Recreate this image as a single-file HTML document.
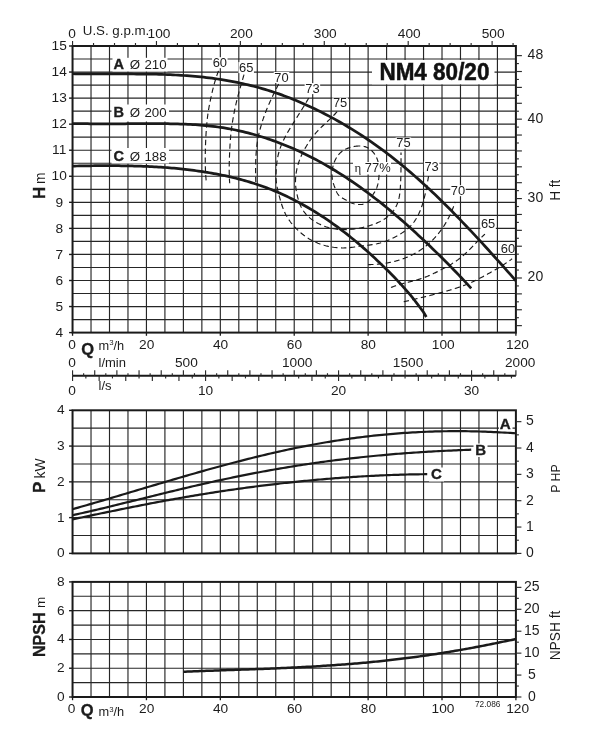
<!DOCTYPE html>
<html lang="en">
<head>
<meta charset="utf-8">
<title>NM4 80/20</title>
<style>html,body{margin:0;padding:0;background:#fff}svg{display:block;will-change:transform}</style>
</head>
<body>
<svg width="607" height="746" viewBox="0 0 607 746" font-family='"Liberation Sans", sans-serif'>
<rect width="607" height="746" fill="#fff"/>
<g id="main">
<line x1="72.55" y1="59.03" x2="515.9" y2="59.03" stroke="#262626" stroke-width="1.15" />
<line x1="72.55" y1="72.05" x2="515.9" y2="72.05" stroke="#262626" stroke-width="1.15" />
<line x1="72.55" y1="85.08" x2="515.9" y2="85.08" stroke="#262626" stroke-width="1.15" />
<line x1="72.55" y1="98.11" x2="515.9" y2="98.11" stroke="#262626" stroke-width="1.15" />
<line x1="72.55" y1="111.14" x2="515.9" y2="111.14" stroke="#262626" stroke-width="1.15" />
<line x1="72.55" y1="124.16" x2="515.9" y2="124.16" stroke="#262626" stroke-width="1.15" />
<line x1="72.55" y1="137.19" x2="515.9" y2="137.19" stroke="#262626" stroke-width="1.15" />
<line x1="72.55" y1="150.22" x2="515.9" y2="150.22" stroke="#262626" stroke-width="1.15" />
<line x1="72.55" y1="163.25" x2="515.9" y2="163.25" stroke="#262626" stroke-width="1.15" />
<line x1="72.55" y1="176.27" x2="515.9" y2="176.27" stroke="#262626" stroke-width="1.15" />
<line x1="72.55" y1="189.3" x2="515.9" y2="189.3" stroke="#262626" stroke-width="1.15" />
<line x1="72.55" y1="202.33" x2="515.9" y2="202.33" stroke="#262626" stroke-width="1.15" />
<line x1="72.55" y1="215.35" x2="515.9" y2="215.35" stroke="#262626" stroke-width="1.15" />
<line x1="72.55" y1="228.38" x2="515.9" y2="228.38" stroke="#262626" stroke-width="1.15" />
<line x1="72.55" y1="241.41" x2="515.9" y2="241.41" stroke="#262626" stroke-width="1.15" />
<line x1="72.55" y1="254.44" x2="515.9" y2="254.44" stroke="#262626" stroke-width="1.15" />
<line x1="72.55" y1="267.46" x2="515.9" y2="267.46" stroke="#262626" stroke-width="1.15" />
<line x1="72.55" y1="280.49" x2="515.9" y2="280.49" stroke="#262626" stroke-width="1.15" />
<line x1="72.55" y1="293.52" x2="515.9" y2="293.52" stroke="#262626" stroke-width="1.15" />
<line x1="72.55" y1="306.55" x2="515.9" y2="306.55" stroke="#262626" stroke-width="1.15" />
<line x1="72.55" y1="319.57" x2="515.9" y2="319.57" stroke="#262626" stroke-width="1.15" />
<line x1="91.02" y1="46" x2="91.02" y2="332.6" stroke="#262626" stroke-width="1.15" />
<line x1="109.5" y1="46" x2="109.5" y2="332.6" stroke="#262626" stroke-width="1.15" />
<line x1="127.97" y1="46" x2="127.97" y2="332.6" stroke="#262626" stroke-width="1.15" />
<line x1="146.44" y1="46" x2="146.44" y2="332.6" stroke="#262626" stroke-width="1.15" />
<line x1="164.91" y1="46" x2="164.91" y2="332.6" stroke="#262626" stroke-width="1.15" />
<line x1="183.39" y1="46" x2="183.39" y2="332.6" stroke="#262626" stroke-width="1.15" />
<line x1="201.86" y1="46" x2="201.86" y2="332.6" stroke="#262626" stroke-width="1.15" />
<line x1="220.33" y1="46" x2="220.33" y2="332.6" stroke="#262626" stroke-width="1.15" />
<line x1="238.81" y1="46" x2="238.81" y2="332.6" stroke="#262626" stroke-width="1.15" />
<line x1="257.28" y1="46" x2="257.28" y2="332.6" stroke="#262626" stroke-width="1.15" />
<line x1="275.75" y1="46" x2="275.75" y2="332.6" stroke="#262626" stroke-width="1.15" />
<line x1="294.22" y1="46" x2="294.22" y2="332.6" stroke="#262626" stroke-width="1.15" />
<line x1="312.7" y1="46" x2="312.7" y2="332.6" stroke="#262626" stroke-width="1.15" />
<line x1="331.17" y1="46" x2="331.17" y2="332.6" stroke="#262626" stroke-width="1.15" />
<line x1="349.64" y1="46" x2="349.64" y2="332.6" stroke="#262626" stroke-width="1.15" />
<line x1="368.12" y1="46" x2="368.12" y2="332.6" stroke="#262626" stroke-width="1.15" />
<line x1="386.59" y1="46" x2="386.59" y2="332.6" stroke="#262626" stroke-width="1.15" />
<line x1="405.06" y1="46" x2="405.06" y2="332.6" stroke="#262626" stroke-width="1.15" />
<line x1="423.54" y1="46" x2="423.54" y2="332.6" stroke="#262626" stroke-width="1.15" />
<line x1="442.01" y1="46" x2="442.01" y2="332.6" stroke="#262626" stroke-width="1.15" />
<line x1="460.48" y1="46" x2="460.48" y2="332.6" stroke="#262626" stroke-width="1.15" />
<line x1="478.95" y1="46" x2="478.95" y2="332.6" stroke="#262626" stroke-width="1.15" />
<line x1="497.43" y1="46" x2="497.43" y2="332.6" stroke="#262626" stroke-width="1.15" />
<rect x="372" y="60" width="122.5" height="24.3" fill="#fff"/>
<rect x="112.5" y="57.8" width="55" height="13.7" fill="#fff"/>
<rect x="111.5" y="104.5" width="57.5" height="17" fill="#fff"/>
<rect x="111.5" y="148" width="57.5" height="15.5" fill="#fff"/>
<path d="M218.5 70.9 L218.3 71.42 L218.1 71.95 L217.91 72.48 L217.72 73 L217.52 73.53 L217.34 74.06 L217.15 74.59 L216.97 75.12 L216.79 75.65 L216.61 76.18 L216.43 76.72 L216.26 77.25 L216.09 77.78 L215.92 78.32 L215.75 78.85 L215.58 79.39 L215.42 79.92 L215.25 80.46 L215.09 81 L214.94 81.53 L214.78 82.07 L214.62 82.61 L214.47 83.15 L214.32 83.69 L214.17 84.23 L214.02 84.77 L213.88 85.31 L213.73 85.85 L213.59 86.39 L213.45 86.94 L213.31 87.48 L213.17 88.02 L213.03 88.57 L212.89 89.11 L212.76 89.65 L212.62 90.2 L212.49 90.74 L212.36 91.29 L212.23 91.84 L212.1 92.38 L211.97 92.93 L211.85 93.47 L211.72 94.02 L211.6 94.57 L211.47 95.11 L211.35 95.66 L211.23 96.21 L211.11 96.76 L210.99 97.31 L210.87 97.85 L210.75 98.4 L210.63 98.95 L210.52 99.5 L210.4 100.05 L210.29 100.6 L210.17 101.15 L210.06 101.7 L209.95 102.25 L209.84 102.8 L209.73 103.35 L209.63 103.9 L209.52 104.45 L209.41 105 L209.31 105.55 L209.21 106.1 L209.11 106.65 L209.01 107.21 L208.91 107.76 L208.81 108.31 L208.72 108.86 L208.62 109.42 L208.53 109.97 L208.44 110.52 L208.35 111.08 L208.27 111.63 L208.18 112.18 L208.1 112.74 L208.02 113.29 L207.94 113.85 L207.86 114.4 L207.78 114.96 L207.71 115.51 L207.63 116.07 L207.56 116.63 L207.49 117.18 L207.43 117.74 L207.36 118.3 L207.3 118.85 L207.23 119.41 L207.17 119.97 L207.11 120.52 L207.06 121.08 L207 121.64 L206.94 122.2 L206.89 122.76 L206.84 123.31 L206.78 123.87 L206.73 124.43 L206.69 124.99 L206.64 125.55 L206.59 126.11 L206.55 126.67 L206.5 127.23 L206.46 127.79 L206.42 128.35 L206.37 128.91 L206.33 129.46 L206.29 130.02 L206.26 130.58 L206.22 131.14 L206.18 131.7 L206.14 132.26 L206.11 132.82 L206.07 133.38 L206.04 133.94 L206.01 134.5 L205.97 135.06 L205.94 135.62 L205.91 136.18 L205.88 136.74 L205.85 137.3 L205.82 137.86 L205.79 138.42 L205.77 138.98 L205.74 139.54 L205.71 140.1 L205.69 140.66 L205.66 141.22 L205.64 141.78 L205.62 142.34 L205.59 142.9 L205.57 143.46 L205.55 144.02 L205.53 144.58 L205.51 145.14 L205.49 145.7 L205.47 146.26 L205.45 146.82 L205.44 147.38 L205.42 147.95 L205.41 148.51 L205.39 149.07 L205.38 149.63 L205.36 150.19 L205.35 150.75 L205.34 151.31 L205.32 151.87 L205.31 152.43 L205.3 152.99 L205.29 153.55 L205.28 154.11 L205.28 154.67 L205.27 155.23 L205.26 155.8 L205.26 156.36 L205.25 156.92 L205.25 157.48 L205.25 158.04 L205.25 158.6 L205.25 159.16 L205.25 159.72 L205.25 160.28 L205.25 160.84 L205.25 161.4 L205.26 161.96 L205.26 162.52 L205.27 163.09 L205.28 163.65 L205.29 164.21 L205.3 164.77 L205.31 165.33 L205.32 165.89 L205.34 166.45 L205.35 167.01 L205.37 167.57 L205.39 168.13 L205.41 168.69 L205.43 169.25 L205.45 169.81 L205.47 170.37 L205.5 170.93 L205.52 171.49 L205.55 172.05 L205.58 172.61 L205.61 173.17 L205.64 173.73 L205.67 174.29 L205.71 174.85 L205.75 175.41 L205.78 175.97 L205.82 176.53 L205.86 177.09 L205.91 177.65 L205.95 178.21 L206 178.76 L206.05 179.32 L206.1 179.88 L206.15 180.44 L206.2 181" fill="none" stroke="#1a1a1a" stroke-width="1.15" stroke-dasharray="5.4 3.4"/>
<path d="M244 74.6 L243.85 75.13 L243.7 75.67 L243.54 76.2 L243.39 76.73 L243.24 77.26 L243.08 77.8 L242.93 78.33 L242.78 78.86 L242.62 79.39 L242.47 79.92 L242.32 80.46 L242.16 80.99 L242.01 81.52 L241.85 82.05 L241.7 82.59 L241.54 83.12 L241.39 83.65 L241.24 84.18 L241.08 84.72 L240.93 85.25 L240.78 85.78 L240.62 86.31 L240.47 86.85 L240.32 87.38 L240.17 87.91 L240.02 88.45 L239.87 88.98 L239.72 89.51 L239.57 90.05 L239.42 90.58 L239.27 91.11 L239.12 91.65 L238.97 92.18 L238.83 92.72 L238.68 93.25 L238.54 93.79 L238.39 94.32 L238.25 94.86 L238.11 95.39 L237.96 95.93 L237.82 96.46 L237.68 97 L237.55 97.54 L237.41 98.07 L237.27 98.61 L237.14 99.15 L237 99.69 L236.87 100.22 L236.74 100.76 L236.61 101.3 L236.48 101.84 L236.35 102.38 L236.23 102.92 L236.1 103.46 L235.98 104 L235.85 104.54 L235.73 105.08 L235.61 105.62 L235.49 106.16 L235.37 106.7 L235.25 107.24 L235.14 107.79 L235.02 108.33 L234.91 108.87 L234.79 109.41 L234.68 109.96 L234.57 110.5 L234.46 111.04 L234.35 111.59 L234.24 112.13 L234.14 112.67 L234.03 113.22 L233.93 113.76 L233.82 114.31 L233.72 114.85 L233.62 115.4 L233.52 115.94 L233.42 116.49 L233.32 117.03 L233.22 117.58 L233.13 118.12 L233.03 118.67 L232.94 119.22 L232.85 119.76 L232.76 120.31 L232.66 120.86 L232.58 121.4 L232.49 121.95 L232.4 122.5 L232.31 123.05 L232.23 123.6 L232.15 124.14 L232.06 124.69 L231.98 125.24 L231.9 125.79 L231.83 126.34 L231.75 126.89 L231.68 127.44 L231.6 127.98 L231.53 128.53 L231.46 129.08 L231.39 129.63 L231.32 130.18 L231.25 130.73 L231.19 131.28 L231.12 131.83 L231.06 132.38 L231 132.94 L230.94 133.49 L230.89 134.04 L230.83 134.59 L230.78 135.14 L230.72 135.69 L230.67 136.24 L230.62 136.8 L230.57 137.35 L230.53 137.9 L230.48 138.45 L230.44 139 L230.39 139.56 L230.35 140.11 L230.31 140.66 L230.27 141.21 L230.23 141.77 L230.19 142.32 L230.16 142.87 L230.12 143.43 L230.09 143.98 L230.05 144.53 L230.02 145.09 L229.99 145.64 L229.96 146.19 L229.93 146.75 L229.9 147.3 L229.87 147.85 L229.84 148.41 L229.81 148.96 L229.78 149.51 L229.75 150.07 L229.73 150.62 L229.7 151.18 L229.68 151.73 L229.65 152.28 L229.62 152.84 L229.6 153.39 L229.58 153.94 L229.55 154.5 L229.53 155.05 L229.51 155.61 L229.48 156.16 L229.46 156.71 L229.44 157.27 L229.42 157.82 L229.4 158.38 L229.38 158.93 L229.36 159.48 L229.35 160.04 L229.33 160.59 L229.31 161.15 L229.3 161.7 L229.29 162.25 L229.27 162.81 L229.26 163.36 L229.25 163.91 L229.24 164.47 L229.23 165.02 L229.22 165.58 L229.22 166.13 L229.21 166.68 L229.21 167.24 L229.2 167.79 L229.2 168.35 L229.2 168.9 L229.2 169.45 L229.2 170.01 L229.2 170.56 L229.21 171.12 L229.21 171.67 L229.22 172.22 L229.23 172.78 L229.24 173.33 L229.25 173.89 L229.26 174.44 L229.28 174.99 L229.29 175.55 L229.31 176.1 L229.33 176.66 L229.35 177.21 L229.38 177.76 L229.4 178.32 L229.43 178.87 L229.45 179.42 L229.48 179.98 L229.51 180.53 L229.55 181.09 L229.58 181.64 L229.62 182.19 L229.66 182.75 L229.7 183.3" fill="none" stroke="#1a1a1a" stroke-width="1.15" stroke-dasharray="5.4 3.4"/>
<path d="M278.6 84 L278.37 84.46 L278.15 84.92 L277.92 85.38 L277.69 85.84 L277.47 86.3 L277.24 86.76 L277.01 87.22 L276.78 87.68 L276.56 88.14 L276.33 88.6 L276.1 89.06 L275.87 89.52 L275.65 89.98 L275.42 90.44 L275.19 90.9 L274.97 91.36 L274.74 91.82 L274.51 92.28 L274.29 92.74 L274.06 93.2 L273.84 93.66 L273.61 94.12 L273.39 94.59 L273.17 95.05 L272.94 95.51 L272.72 95.97 L272.5 96.44 L272.28 96.9 L272.06 97.36 L271.84 97.83 L271.62 98.29 L271.4 98.76 L271.18 99.22 L270.96 99.69 L270.75 100.15 L270.53 100.62 L270.32 101.08 L270.1 101.55 L269.89 102.02 L269.68 102.48 L269.47 102.95 L269.26 103.42 L269.05 103.89 L268.84 104.36 L268.64 104.83 L268.43 105.3 L268.23 105.77 L268.02 106.24 L267.82 106.71 L267.62 107.18 L267.42 107.66 L267.22 108.13 L267.03 108.6 L266.83 109.08 L266.64 109.55 L266.45 110.03 L266.26 110.51 L266.07 110.98 L265.88 111.46 L265.7 111.94 L265.51 112.42 L265.33 112.9 L265.15 113.38 L264.97 113.86 L264.79 114.34 L264.61 114.82 L264.44 115.3 L264.26 115.79 L264.09 116.27 L263.92 116.75 L263.75 117.24 L263.58 117.72 L263.42 118.21 L263.25 118.69 L263.09 119.18 L262.93 119.67 L262.77 120.16 L262.61 120.64 L262.45 121.13 L262.29 121.62 L262.14 122.11 L261.99 122.6 L261.83 123.09 L261.68 123.58 L261.54 124.07 L261.39 124.57 L261.24 125.06 L261.1 125.55 L260.95 126.04 L260.81 126.54 L260.67 127.03 L260.53 127.53 L260.4 128.02 L260.26 128.52 L260.13 129.01 L260 129.51 L259.87 130 L259.74 130.5 L259.61 131 L259.48 131.5 L259.36 131.99 L259.24 132.49 L259.12 132.99 L259 133.49 L258.89 133.99 L258.78 134.49 L258.67 134.99 L258.56 135.5 L258.45 136 L258.35 136.5 L258.24 137 L258.15 137.51 L258.05 138.01 L257.95 138.51 L257.86 139.02 L257.77 139.52 L257.68 140.03 L257.6 140.54 L257.51 141.04 L257.43 141.55 L257.35 142.06 L257.28 142.56 L257.2 143.07 L257.13 143.58 L257.06 144.09 L256.99 144.6 L256.93 145.1 L256.87 145.61 L256.8 146.12 L256.74 146.63 L256.69 147.14 L256.63 147.65 L256.58 148.16 L256.52 148.68 L256.47 149.19 L256.42 149.7 L256.38 150.21 L256.33 150.72 L256.29 151.23 L256.25 151.74 L256.21 152.26 L256.17 152.77 L256.13 153.28 L256.09 153.79 L256.06 154.3 L256.03 154.82 L255.99 155.33 L255.96 155.84 L255.93 156.35 L255.91 156.87 L255.88 157.38 L255.86 157.89 L255.83 158.4 L255.81 158.92 L255.79 159.43 L255.77 159.94 L255.75 160.45 L255.73 160.97 L255.72 161.48 L255.7 161.99 L255.69 162.51 L255.67 163.02 L255.66 163.53 L255.65 164.04 L255.64 164.56 L255.63 165.07 L255.63 165.58 L255.62 166.1 L255.61 166.61 L255.61 167.12 L255.6 167.64 L255.6 168.15 L255.6 168.66 L255.6 169.18 L255.6 169.69 L255.6 170.2 L255.6 170.71 L255.6 171.23 L255.61 171.74 L255.61 172.25 L255.61 172.77 L255.62 173.28 L255.62 173.79 L255.63 174.31 L255.64 174.82 L255.65 175.33 L255.66 175.85 L255.66 176.36 L255.67 176.87 L255.68 177.38 L255.7 177.9 L255.71 178.41 L255.72 178.92 L255.73 179.44 L255.74 179.95 L255.76 180.46 L255.77 180.97 L255.79 181.49 L255.8 182" fill="none" stroke="#1a1a1a" stroke-width="1.15" stroke-dasharray="5.4 3.4"/>
<path d="M308.7 98.1 L307.89 99.5 L307.08 100.9 L306.26 102.29 L305.43 103.67 L304.59 105.06 L303.75 106.44 L302.9 107.81 L302.05 109.19 L301.2 110.56 L300.34 111.93 L299.48 113.3 L298.62 114.67 L297.76 116.03 L296.9 117.4 L296.04 118.76 L295.17 120.13 L294.31 121.5 L293.45 122.87 L292.6 124.24 L291.75 125.61 L290.9 126.99 L290.05 128.36 L289.22 129.75 L288.39 131.14 L287.58 132.53 L286.78 133.94 L286 135.35 L285.24 136.78 L284.49 138.22 L283.77 139.67 L283.07 141.13 L282.4 142.61 L281.76 144.09 L281.15 145.59 L280.57 147.11 L280.02 148.63 L279.51 150.17 L279.04 151.71 L278.61 153.27 L278.22 154.84 L277.88 156.41 L277.57 158 L277.3 159.59 L277.06 161.19 L276.85 162.79 L276.66 164.4 L276.51 166.02 L276.37 167.63 L276.25 169.25 L276.14 170.87 L276.07 172.49 L276.01 174.11 L276 175.73 L276.01 177.34 L276.07 178.96 L276.18 180.56 L276.34 182.16 L276.54 183.76 L276.78 185.35 L277.07 186.94 L277.39 188.53 L277.74 190.11 L278.11 191.68 L278.5 193.26 L278.92 194.83 L279.34 196.4 L279.77 197.97 L280.21 199.54 L280.65 201.11 L281.12 202.66 L281.6 204.21 L282.11 205.75 L282.64 207.28 L283.21 208.79 L283.81 210.29 L284.44 211.77 L285.12 213.23 L285.84 214.67 L286.61 216.09 L287.43 217.48 L288.29 218.85 L289.19 220.19 L290.13 221.52 L291.11 222.81 L292.12 224.08 L293.17 225.33 L294.25 226.54 L295.36 227.74 L296.5 228.9 L297.66 230.04 L298.85 231.15 L300.07 232.23 L301.31 233.28 L302.57 234.3 L303.85 235.29 L305.16 236.24 L306.5 237.16 L307.85 238.05 L309.23 238.9 L310.63 239.71 L312.05 240.48 L313.49 241.22 L314.95 241.91 L316.43 242.57 L317.92 243.19 L319.44 243.77 L320.97 244.31 L322.51 244.81 L324.06 245.28 L325.63 245.71 L327.21 246.1 L328.79 246.46 L330.39 246.77 L331.99 247.05 L333.59 247.3 L335.2 247.5 L336.82 247.67 L338.44 247.8 L340.06 247.89 L341.68 247.94 L343.3 247.95 L344.92 247.92 L346.53 247.86 L348.14 247.75 L349.75 247.6 L351.36 247.41 L352.96 247.2 L354.56 246.98 L356.15 246.74 L357.75 246.5 L359.36 246.26 L360.96 246.04 L362.57 245.84 L364.18 245.64 L365.79 245.45 L367.4 245.26 L369.01 245.06 L370.61 244.84 L372.21 244.61 L373.81 244.36 L375.4 244.09 L376.98 243.78 L378.55 243.43 L380.11 243.04 L381.66 242.61 L383.2 242.13 L384.72 241.62 L386.24 241.06 L387.74 240.47 L389.23 239.84 L390.72 239.18 L392.19 238.48 L393.65 237.76 L395.09 237.01 L396.53 236.23 L397.96 235.43 L399.37 234.6 L400.76 233.75 L402.14 232.86 L403.49 231.95 L404.82 231 L406.11 230.02 L407.37 229 L408.59 227.95 L409.77 226.85 L410.9 225.7 L411.99 224.52 L413.02 223.28 L414 222 L414.93 220.68 L415.81 219.32 L416.65 217.93 L417.45 216.51 L418.2 215.07 L418.91 213.6 L419.58 212.11 L420.22 210.61 L420.82 209.09 L421.38 207.57 L421.92 206.04 L422.43 204.5 L422.9 202.96 L423.35 201.4 L423.78 199.85 L424.19 198.28 L424.57 196.71 L424.94 195.14 L425.29 193.56 L425.62 191.98 L425.95 190.4 L426.26 188.81 L426.56 187.23 L426.86 185.64 L427.15 184.05 L427.44 182.46 L427.73 180.87 L428.01 179.28 L428.31 177.69 L428.6 176.1" fill="none" stroke="#1a1a1a" stroke-width="1.15" stroke-dasharray="5.4 3.4"/>
<path d="M337.1 111.7 L336.19 112.73 L335.26 113.75 L334.31 114.75 L333.35 115.74 L332.37 116.72 L331.39 117.69 L330.4 118.65 L329.4 119.61 L328.39 120.56 L327.38 121.5 L326.37 122.45 L325.36 123.4 L324.36 124.34 L323.35 125.29 L322.35 126.25 L321.36 127.21 L320.38 128.18 L319.4 129.16 L318.44 130.15 L317.5 131.15 L316.57 132.17 L315.66 133.21 L314.76 134.26 L313.89 135.32 L313.03 136.41 L312.19 137.5 L311.37 138.61 L310.56 139.74 L309.77 140.87 L309 142.02 L308.24 143.18 L307.5 144.35 L306.77 145.52 L306.05 146.71 L305.36 147.91 L304.67 149.11 L304.01 150.32 L303.36 151.54 L302.73 152.77 L302.12 154.01 L301.53 155.26 L300.97 156.52 L300.43 157.79 L299.91 159.07 L299.43 160.36 L298.96 161.67 L298.53 162.98 L298.12 164.3 L297.74 165.63 L297.39 166.97 L297.06 168.31 L296.76 169.66 L296.5 171.02 L296.26 172.39 L296.05 173.75 L295.87 175.13 L295.72 176.5 L295.61 177.88 L295.53 179.26 L295.49 180.64 L295.48 182.02 L295.51 183.4 L295.58 184.78 L295.69 186.15 L295.83 187.53 L296.01 188.89 L296.21 190.26 L296.45 191.63 L296.71 192.99 L297 194.34 L297.31 195.7 L297.64 197.05 L297.99 198.4 L298.37 199.74 L298.78 201.07 L299.22 202.39 L299.7 203.69 L300.21 204.97 L300.77 206.24 L301.37 207.48 L302.02 208.69 L302.73 209.87 L303.49 211.03 L304.3 212.15 L305.16 213.24 L306.06 214.29 L307.01 215.31 L307.99 216.29 L309.01 217.24 L310.07 218.14 L311.15 219.01 L312.26 219.84 L313.39 220.63 L314.55 221.38 L315.74 222.1 L316.94 222.79 L318.16 223.44 L319.4 224.06 L320.65 224.64 L321.92 225.2 L323.21 225.73 L324.5 226.23 L325.81 226.7 L327.12 227.13 L328.45 227.53 L329.79 227.9 L331.13 228.24 L332.48 228.54 L333.84 228.8 L335.2 229.03 L336.57 229.22 L337.94 229.38 L339.32 229.5 L340.7 229.58 L342.08 229.64 L343.46 229.66 L344.85 229.65 L346.23 229.61 L347.62 229.55 L349 229.46 L350.38 229.35 L351.76 229.22 L353.14 229.07 L354.51 228.9 L355.89 228.7 L357.25 228.5 L358.62 228.27 L359.98 228.02 L361.33 227.75 L362.68 227.46 L364.03 227.15 L365.37 226.83 L366.71 226.48 L368.04 226.11 L369.37 225.71 L370.69 225.3 L372 224.87 L373.31 224.41 L374.61 223.92 L375.9 223.41 L377.18 222.88 L378.44 222.31 L379.69 221.71 L380.93 221.08 L382.14 220.42 L383.33 219.72 L384.51 218.98 L385.66 218.2 L386.78 217.39 L387.87 216.53 L388.94 215.63 L389.96 214.69 L390.95 213.72 L391.89 212.7 L392.78 211.64 L393.62 210.54 L394.4 209.4 L395.13 208.22 L395.8 207.01 L396.41 205.76 L396.97 204.49 L397.48 203.2 L397.93 201.89 L398.34 200.56 L398.7 199.22 L399.02 197.88 L399.3 196.52 L399.54 195.16 L399.74 193.8 L399.92 192.43 L400.06 191.05 L400.19 189.67 L400.3 188.29 L400.39 186.91 L400.47 185.53 L400.54 184.14 L400.61 182.76 L400.67 181.38 L400.73 180 L400.77 178.62 L400.82 177.24 L400.86 175.86 L400.89 174.48 L400.92 173.1 L400.95 171.72 L400.97 170.34 L400.98 168.96 L401 167.59 L401.01 166.21 L401.02 164.83 L401.02 163.45 L401.03 162.07 L401.03 160.69 L401.03 159.31 L401.02 157.93 L401.02 156.55 L401.01 155.17 L401.01 153.78 L401 152.4" fill="none" stroke="#1a1a1a" stroke-width="1.15" stroke-dasharray="5.4 3.4"/>
<path d="M368.1 264.6 L368.68 264.6 L369.26 264.59 L369.84 264.58 L370.42 264.57 L371 264.55 L371.58 264.53 L372.16 264.51 L372.74 264.49 L373.32 264.46 L373.89 264.43 L374.47 264.4 L375.05 264.37 L375.63 264.33 L376.21 264.29 L376.79 264.24 L377.37 264.2 L377.95 264.15 L378.53 264.1 L379.1 264.04 L379.68 263.98 L380.26 263.92 L380.84 263.86 L381.41 263.79 L381.99 263.72 L382.56 263.65 L383.14 263.57 L383.71 263.49 L384.29 263.41 L384.86 263.32 L385.44 263.23 L386.01 263.14 L386.58 263.04 L387.15 262.95 L387.73 262.84 L388.3 262.74 L388.87 262.63 L389.44 262.52 L390.01 262.41 L390.57 262.29 L391.14 262.17 L391.71 262.04 L392.27 261.91 L392.84 261.78 L393.4 261.65 L393.97 261.51 L394.53 261.37 L395.09 261.22 L395.65 261.08 L396.21 260.92 L396.77 260.77 L397.33 260.61 L397.89 260.45 L398.44 260.28 L399 260.11 L399.55 259.94 L400.11 259.77 L400.66 259.59 L401.21 259.4 L401.76 259.22 L402.31 259.03 L402.85 258.83 L403.4 258.63 L403.95 258.43 L404.49 258.23 L405.03 258.02 L405.57 257.81 L406.11 257.59 L406.65 257.37 L407.19 257.15 L407.72 256.92 L408.25 256.69 L408.78 256.46 L409.31 256.22 L409.84 255.98 L410.37 255.73 L410.89 255.48 L411.42 255.23 L411.94 254.97 L412.46 254.71 L412.97 254.45 L413.49 254.18 L414 253.91 L414.51 253.63 L415.02 253.35 L415.53 253.07 L416.03 252.78 L416.54 252.49 L417.04 252.19 L417.53 251.9 L418.03 251.59 L418.52 251.29 L419.02 250.98 L419.5 250.66 L419.99 250.35 L420.48 250.02 L420.96 249.7 L421.44 249.37 L421.91 249.04 L422.39 248.7 L422.86 248.36 L423.33 248.02 L423.8 247.68 L424.26 247.33 L424.72 246.97 L425.18 246.62 L425.64 246.26 L426.09 245.9 L426.54 245.53 L426.99 245.16 L427.44 244.79 L427.88 244.41 L428.32 244.03 L428.76 243.65 L429.19 243.26 L429.63 242.87 L430.06 242.48 L430.48 242.09 L430.91 241.69 L431.33 241.29 L431.74 240.89 L432.16 240.48 L432.57 240.07 L432.98 239.66 L433.38 239.24 L433.79 238.82 L434.19 238.4 L434.58 237.98 L434.98 237.55 L435.37 237.12 L435.75 236.69 L436.14 236.25 L436.52 235.81 L436.9 235.37 L437.27 234.93 L437.65 234.49 L438.02 234.04 L438.38 233.59 L438.75 233.13 L439.11 232.68 L439.46 232.22 L439.82 231.76 L440.17 231.3 L440.52 230.83 L440.86 230.37 L441.2 229.9 L441.54 229.43 L441.87 228.95 L442.21 228.48 L442.54 228 L442.86 227.52 L443.18 227.04 L443.5 226.55 L443.82 226.07 L444.13 225.58 L444.44 225.09 L444.75 224.6 L445.06 224.1 L445.36 223.61 L445.65 223.11 L445.95 222.61 L446.24 222.11 L446.53 221.6 L446.82 221.1 L447.1 220.59 L447.38 220.08 L447.66 219.57 L447.93 219.06 L448.2 218.55 L448.47 218.03 L448.74 217.52 L449 217 L449.26 216.48 L449.52 215.96 L449.77 215.44 L450.02 214.91 L450.27 214.39 L450.51 213.86 L450.76 213.34 L450.99 212.81 L451.23 212.28 L451.47 211.75 L451.7 211.21 L451.92 210.68 L452.15 210.14 L452.37 209.61 L452.59 209.07 L452.81 208.53 L453.02 207.99 L453.23 207.45 L453.44 206.91 L453.65 206.37 L453.85 205.83 L454.05 205.28 L454.25 204.74 L454.45 204.19 L454.64 203.64 L454.83 203.1 L455.02 202.55 L455.2 202" fill="none" stroke="#1a1a1a" stroke-width="1.15" stroke-dasharray="5.4 3.4"/>
<path d="M391 287.5 L391.51 287.29 L392.03 287.09 L392.55 286.89 L393.06 286.7 L393.58 286.51 L394.1 286.32 L394.63 286.14 L395.15 285.96 L395.67 285.78 L396.2 285.61 L396.72 285.43 L397.25 285.27 L397.78 285.1 L398.31 284.94 L398.84 284.78 L399.37 284.62 L399.9 284.46 L400.43 284.31 L400.96 284.15 L401.49 284 L402.03 283.85 L402.56 283.71 L403.1 283.56 L403.63 283.42 L404.17 283.27 L404.7 283.13 L405.24 282.99 L405.78 282.85 L406.31 282.71 L406.85 282.57 L407.39 282.43 L407.92 282.29 L408.46 282.15 L409 282.02 L409.53 281.88 L410.07 281.74 L410.61 281.6 L411.14 281.46 L411.68 281.32 L412.22 281.18 L412.75 281.04 L413.29 280.9 L413.82 280.75 L414.36 280.61 L414.89 280.46 L415.42 280.32 L415.96 280.17 L416.49 280.02 L417.02 279.87 L417.55 279.71 L418.08 279.56 L418.61 279.4 L419.14 279.24 L419.67 279.08 L420.2 278.91 L420.72 278.74 L421.25 278.57 L421.77 278.4 L422.29 278.22 L422.81 278.04 L423.34 277.86 L423.85 277.67 L424.37 277.48 L424.89 277.29 L425.4 277.09 L425.92 276.89 L426.43 276.69 L426.94 276.49 L427.46 276.28 L427.97 276.07 L428.47 275.85 L428.98 275.64 L429.49 275.42 L430 275.2 L430.5 274.97 L431.01 274.75 L431.51 274.52 L432.01 274.29 L432.51 274.05 L433.02 273.82 L433.52 273.58 L434.02 273.34 L434.52 273.1 L435.01 272.86 L435.51 272.62 L436.01 272.37 L436.51 272.12 L437 271.87 L437.5 271.62 L437.99 271.37 L438.49 271.12 L438.98 270.87 L439.48 270.61 L439.97 270.36 L440.46 270.1 L440.95 269.84 L441.45 269.59 L441.94 269.33 L442.43 269.07 L442.92 268.81 L443.41 268.55 L443.91 268.29 L444.4 268.02 L444.89 267.76 L445.37 267.49 L445.86 267.23 L446.35 266.96 L446.84 266.69 L447.32 266.42 L447.81 266.15 L448.29 265.88 L448.77 265.61 L449.25 265.33 L449.73 265.05 L450.21 264.77 L450.69 264.49 L451.17 264.21 L451.64 263.92 L452.11 263.63 L452.59 263.34 L453.06 263.05 L453.52 262.75 L453.99 262.46 L454.45 262.16 L454.92 261.85 L455.38 261.55 L455.83 261.24 L456.29 260.93 L456.74 260.62 L457.19 260.3 L457.64 259.98 L458.09 259.66 L458.53 259.33 L458.97 259 L459.41 258.67 L459.85 258.33 L460.28 257.99 L460.71 257.65 L461.14 257.3 L461.57 256.95 L461.99 256.6 L462.41 256.24 L462.83 255.88 L463.25 255.52 L463.66 255.16 L464.08 254.79 L464.49 254.42 L464.9 254.05 L465.3 253.67 L465.71 253.3 L466.11 252.92 L466.51 252.54 L466.92 252.16 L467.31 251.77 L467.71 251.39 L468.11 251 L468.5 250.61 L468.9 250.22 L469.29 249.83 L469.68 249.43 L470.07 249.04 L470.46 248.64 L470.85 248.25 L471.24 247.85 L471.63 247.45 L472.02 247.05 L472.4 246.65 L472.79 246.25 L473.17 245.85 L473.56 245.45 L473.94 245.05 L474.33 244.65 L474.71 244.25 L475.1 243.85 L475.48 243.44 L475.87 243.04 L476.25 242.64 L476.64 242.24 L477.02 241.84 L477.41 241.44 L477.8 241.04 L478.18 240.65 L478.57 240.25 L478.96 239.85 L479.35 239.46 L479.74 239.07 L480.13 238.67 L480.52 238.28 L480.91 237.89 L481.3 237.51 L481.7 237.12 L482.09 236.74 L482.49 236.35 L482.89 235.97 L483.29 235.59 L483.69 235.22 L484.09 234.84 L484.49 234.47 L484.9 234.1" fill="none" stroke="#1a1a1a" stroke-width="1.15" stroke-dasharray="5.4 3.4"/>
<path d="M403.7 301.8 L404.28 301.66 L404.85 301.53 L405.43 301.39 L406 301.26 L406.58 301.12 L407.15 300.98 L407.73 300.85 L408.3 300.71 L408.88 300.58 L409.45 300.44 L410.03 300.3 L410.6 300.17 L411.18 300.03 L411.75 299.9 L412.33 299.76 L412.9 299.62 L413.48 299.49 L414.05 299.35 L414.63 299.21 L415.2 299.08 L415.78 298.94 L416.35 298.8 L416.93 298.66 L417.5 298.53 L418.08 298.39 L418.65 298.25 L419.23 298.11 L419.8 297.98 L420.37 297.84 L420.95 297.7 L421.52 297.56 L422.1 297.42 L422.67 297.28 L423.24 297.14 L423.82 297 L424.39 296.86 L424.96 296.72 L425.54 296.58 L426.11 296.44 L426.69 296.29 L427.26 296.15 L427.83 296.01 L428.4 295.87 L428.98 295.72 L429.55 295.58 L430.12 295.44 L430.7 295.29 L431.27 295.15 L431.84 295 L432.41 294.86 L432.99 294.71 L433.56 294.56 L434.13 294.41 L434.7 294.27 L435.27 294.12 L435.85 293.97 L436.42 293.82 L436.99 293.67 L437.56 293.52 L438.13 293.37 L438.7 293.22 L439.28 293.06 L439.85 292.91 L440.42 292.76 L440.99 292.6 L441.56 292.45 L442.13 292.29 L442.7 292.14 L443.27 291.98 L443.84 291.82 L444.41 291.66 L444.98 291.51 L445.55 291.35 L446.12 291.19 L446.69 291.02 L447.26 290.86 L447.83 290.7 L448.4 290.54 L448.97 290.37 L449.53 290.2 L450.1 290.04 L450.67 289.87 L451.24 289.7 L451.8 289.53 L452.37 289.36 L452.94 289.19 L453.5 289.01 L454.07 288.83 L454.63 288.66 L455.2 288.48 L455.76 288.3 L456.32 288.12 L456.88 287.93 L457.45 287.75 L458.01 287.56 L458.57 287.37 L459.13 287.18 L459.69 286.99 L460.25 286.8 L460.8 286.6 L461.36 286.4 L461.92 286.2 L462.47 286 L463.03 285.79 L463.58 285.59 L464.13 285.38 L464.68 285.17 L465.23 284.95 L465.78 284.74 L466.33 284.52 L466.88 284.3 L467.43 284.07 L467.97 283.85 L468.52 283.62 L469.06 283.39 L469.6 283.16 L470.14 282.92 L470.68 282.68 L471.22 282.44 L471.76 282.2 L472.3 281.95 L472.83 281.7 L473.37 281.45 L473.9 281.2 L474.43 280.94 L474.97 280.69 L475.5 280.43 L476.03 280.17 L476.56 279.91 L477.09 279.64 L477.62 279.38 L478.14 279.11 L478.67 278.84 L479.2 278.57 L479.72 278.3 L480.25 278.03 L480.77 277.76 L481.3 277.48 L481.82 277.2 L482.34 276.93 L482.86 276.65 L483.39 276.37 L483.91 276.09 L484.43 275.81 L484.95 275.53 L485.47 275.24 L485.99 274.96 L486.51 274.68 L487.03 274.39 L487.54 274.11 L488.06 273.82 L488.58 273.54 L489.1 273.25 L489.61 272.96 L490.13 272.68 L490.65 272.39 L491.16 272.1 L491.68 271.81 L492.19 271.52 L492.71 271.22 L493.22 270.93 L493.73 270.64 L494.24 270.34 L494.75 270.05 L495.27 269.75 L495.78 269.45 L496.28 269.15 L496.79 268.85 L497.3 268.55 L497.81 268.25 L498.31 267.94 L498.82 267.64 L499.33 267.33 L499.83 267.02 L500.33 266.71 L500.83 266.4 L501.34 266.09 L501.84 265.78 L502.34 265.46 L502.83 265.15 L503.33 264.83 L503.83 264.51 L504.32 264.19 L504.82 263.86 L505.31 263.54 L505.8 263.21 L506.3 262.88 L506.79 262.55 L507.27 262.22 L507.76 261.89 L508.25 261.55 L508.74 261.22 L509.22 260.88 L509.7 260.54 L510.18 260.19 L510.67 259.85 L511.15 259.5 L511.62 259.15 L512.1 258.8" fill="none" stroke="#1a1a1a" stroke-width="1.15" stroke-dasharray="5.4 3.4"/>
<path d="M359 146 L358.15 146.03 L357.31 146.08 L356.46 146.16 L355.63 146.25 L354.79 146.37 L353.96 146.51 L353.13 146.68 L352.31 146.86 L351.49 147.07 L350.67 147.3 L349.86 147.54 L349.05 147.81 L348.25 148.1 L347.46 148.41 L346.67 148.74 L345.9 149.1 L345.14 149.48 L344.39 149.88 L343.66 150.31 L342.95 150.77 L342.25 151.25 L341.58 151.75 L340.93 152.29 L340.3 152.85 L339.7 153.44 L339.12 154.06 L338.56 154.7 L338.03 155.36 L337.53 156.04 L337.04 156.74 L336.58 157.46 L336.15 158.2 L335.73 158.94 L335.35 159.7 L334.98 160.47 L334.64 161.25 L334.32 162.04 L334.02 162.83 L333.74 163.63 L333.49 164.43 L333.26 165.24 L333.05 166.06 L332.85 166.88 L332.68 167.71 L332.53 168.54 L332.4 169.38 L332.29 170.22 L332.19 171.06 L332.12 171.91 L332.06 172.76 L332.03 173.61 L332.01 174.45 L332.02 175.3 L332.05 176.15 L332.1 176.99 L332.18 177.83 L332.28 178.67 L332.41 179.49 L332.56 180.32 L332.75 181.13 L332.95 181.94 L333.18 182.74 L333.43 183.55 L333.69 184.34 L333.96 185.14 L334.25 185.94 L334.54 186.74 L334.83 187.55 L335.13 188.36 L335.43 189.17 L335.74 189.97 L336.06 190.77 L336.4 191.56 L336.76 192.33 L337.16 193.07 L337.59 193.78 L338.06 194.46 L338.58 195.09 L339.15 195.68 L339.77 196.23 L340.42 196.75 L341.11 197.24 L341.82 197.7 L342.55 198.14 L343.3 198.57 L344.05 198.99 L344.81 199.41 L345.56 199.83 L346.3 200.26 L347.04 200.69 L347.77 201.11 L348.5 201.53 L349.24 201.93 L349.99 202.31 L350.74 202.67 L351.51 203 L352.29 203.3 L353.09 203.57 L353.9 203.8 L354.72 204 L355.55 204.17 L356.39 204.31 L357.23 204.41 L358.08 204.49 L358.93 204.53 L359.78 204.54 L360.63 204.52 L361.48 204.45 L362.31 204.34 L363.14 204.18 L363.96 203.97 L364.77 203.7 L365.56 203.38 L366.33 203 L367.07 202.57 L367.78 202.09 L368.44 201.56 L369.06 200.98 L369.62 200.35 L370.13 199.69 L370.59 198.99 L371.02 198.26 L371.43 197.52 L371.82 196.77 L372.22 196.02 L372.63 195.27 L373.05 194.54 L373.49 193.81 L373.94 193.09 L374.38 192.38 L374.82 191.66 L375.24 190.93 L375.64 190.2 L376.02 189.45 L376.37 188.69 L376.69 187.92 L376.99 187.13 L377.26 186.33 L377.5 185.53 L377.72 184.71 L377.92 183.89 L378.1 183.06 L378.27 182.22 L378.41 181.38 L378.54 180.53 L378.65 179.68 L378.75 178.84 L378.84 177.99 L378.91 177.14 L378.98 176.29 L379.03 175.45 L379.08 174.6 L379.11 173.76 L379.13 172.92 L379.14 172.08 L379.14 171.24 L379.12 170.4 L379.09 169.56 L379.05 168.71 L378.99 167.87 L378.92 167.03 L378.83 166.19 L378.72 165.35 L378.59 164.51 L378.45 163.67 L378.28 162.84 L378.09 162.02 L377.88 161.2 L377.64 160.39 L377.37 159.59 L377.08 158.8 L376.76 158.02 L376.41 157.25 L376.03 156.49 L375.62 155.75 L375.19 155.02 L374.73 154.31 L374.24 153.62 L373.73 152.94 L373.19 152.28 L372.62 151.65 L372.03 151.03 L371.41 150.44 L370.78 149.87 L370.11 149.33 L369.43 148.83 L368.72 148.36 L367.99 147.92 L367.24 147.53 L366.48 147.19 L365.69 146.89 L364.89 146.64 L364.07 146.44 L363.24 146.28 L362.4 146.15 L361.55 146.07 L360.7 146.02 L359.85 146 L359 146Z" fill="none" stroke="#1a1a1a" stroke-width="1.15" stroke-dasharray="5.4 3.4"/>
<rect x="212.05" y="57.2" width="15.5" height="11" fill="#fff"/>
<text x="219.8" y="67.1" font-size="12.9" text-anchor="middle" font-weight="normal" fill="#1c1c1c" >60</text>
<rect x="238.45" y="62.1" width="15.5" height="11" fill="#fff"/>
<text x="246.2" y="72" font-size="12.9" text-anchor="middle" font-weight="normal" fill="#1c1c1c" >65</text>
<rect x="273.75" y="72" width="15.5" height="11" fill="#fff"/>
<text x="281.5" y="81.9" font-size="12.9" text-anchor="middle" font-weight="normal" fill="#1c1c1c" >70</text>
<rect x="304.65" y="83.1" width="15.5" height="11" fill="#fff"/>
<text x="312.4" y="93" font-size="12.9" text-anchor="middle" font-weight="normal" fill="#1c1c1c" >73</text>
<rect x="332.35" y="97.5" width="15.5" height="11" fill="#fff"/>
<text x="340.1" y="107.4" font-size="12.9" text-anchor="middle" font-weight="normal" fill="#1c1c1c" >75</text>
<rect x="395.65" y="137.5" width="15.5" height="11" fill="#fff"/>
<text x="403.4" y="147.4" font-size="12.9" text-anchor="middle" font-weight="normal" fill="#1c1c1c" >75</text>
<rect x="423.85" y="161.2" width="15.5" height="11" fill="#fff"/>
<text x="431.6" y="171.1" font-size="12.9" text-anchor="middle" font-weight="normal" fill="#1c1c1c" >73</text>
<rect x="450.25" y="185.2" width="15.5" height="11" fill="#fff"/>
<text x="458" y="195.1" font-size="12.9" text-anchor="middle" font-weight="normal" fill="#1c1c1c" >70</text>
<rect x="480.35" y="218.4" width="15.5" height="11" fill="#fff"/>
<text x="488.1" y="228.3" font-size="12.9" text-anchor="middle" font-weight="normal" fill="#1c1c1c" >65</text>
<rect x="500.15" y="243.1" width="15.5" height="11" fill="#fff"/>
<text x="507.9" y="253" font-size="12.9" text-anchor="middle" font-weight="normal" fill="#1c1c1c" >60</text>
<rect x="353" y="162" width="38" height="12.5" fill="#fff"/>
<text x="354.5" y="172.4" font-size="12.9" text-anchor="start" font-weight="normal" fill="#1c1c1c" ><tspan font-family='"Liberation Serif", serif'>η</tspan> 77%</text>
<path d="M72.55 73.75 L75.34 73.76 L78.13 73.77 L80.92 73.78 L83.7 73.8 L86.49 73.81 L89.28 73.82 L92.07 73.83 L94.86 73.84 L97.65 73.85 L100.43 73.87 L103.22 73.88 L106.01 73.89 L108.8 73.9 L111.59 73.91 L114.38 73.93 L117.16 73.94 L119.95 73.95 L122.74 73.96 L125.53 73.97 L128.32 73.98 L131.11 73.99 L133.89 74 L136.68 74.02 L139.47 74.03 L142.26 74.04 L145.05 74.05 L147.84 74.07 L150.62 74.1 L153.41 74.16 L156.2 74.23 L158.99 74.31 L161.78 74.41 L164.57 74.5 L167.35 74.61 L170.14 74.72 L172.93 74.85 L175.72 75 L178.51 75.15 L181.3 75.32 L184.08 75.5 L186.87 75.69 L189.66 75.9 L192.45 76.13 L195.24 76.38 L198.03 76.64 L200.81 76.92 L203.6 77.21 L206.39 77.53 L209.18 77.86 L211.97 78.22 L214.76 78.6 L217.54 79 L220.33 79.41 L223.12 79.85 L225.91 80.31 L228.7 80.8 L231.49 81.31 L234.28 81.85 L237.06 82.4 L239.85 82.98 L242.64 83.58 L245.43 84.22 L248.22 84.87 L251.01 85.56 L253.79 86.27 L256.58 87.01 L259.37 87.77 L262.16 88.56 L264.95 89.38 L267.74 90.22 L270.52 91.1 L273.31 92.01 L276.1 92.94 L278.89 93.91 L281.68 94.9 L284.47 95.93 L287.25 96.98 L290.04 98.06 L292.83 99.17 L295.62 100.31 L298.41 101.48 L301.2 102.68 L303.98 103.9 L306.77 105.15 L309.56 106.43 L312.35 107.73 L315.14 109.06 L317.93 110.42 L320.71 111.81 L323.5 113.22 L326.29 114.66 L329.08 116.13 L331.87 117.63 L334.66 119.15 L337.44 120.7 L340.23 122.29 L343.02 123.9 L345.81 125.54 L348.6 127.21 L351.39 128.9 L354.17 130.63 L356.96 132.39 L359.75 134.18 L362.54 136 L365.33 137.85 L368.12 139.74 L370.91 141.65 L373.69 143.6 L376.48 145.58 L379.27 147.59 L382.06 149.63 L384.85 151.71 L387.64 153.82 L390.42 155.96 L393.21 158.13 L396 160.33 L398.79 162.57 L401.58 164.84 L404.37 167.14 L407.15 169.48 L409.94 171.84 L412.73 174.24 L415.52 176.67 L418.31 179.13 L421.1 181.63 L423.88 184.16 L426.67 186.72 L429.46 189.31 L432.25 191.93 L435.04 194.58 L437.83 197.26 L440.61 199.97 L443.4 202.72 L446.19 205.48 L448.98 208.27 L451.77 211.08 L454.56 213.91 L457.34 216.77 L460.13 219.66 L462.92 222.58 L465.71 225.5 L468.5 228.44 L471.29 231.4 L474.07 234.38 L476.86 237.38 L479.65 240.41 L482.44 243.44 L485.23 246.49 L488.02 249.55 L490.8 252.62 L493.59 255.71 L496.38 258.8 L499.17 261.91 L501.96 265.03 L504.75 268.15 L507.53 271.29 L510.32 274.43 L513.11 277.59 L515.9 280.75" fill="none" stroke="#1a1a1a" stroke-width="2.75" stroke-linejoin="round"/>
<path d="M72.55 123.51 L75.06 123.56 L77.56 123.6 L80.07 123.64 L82.58 123.68 L85.09 123.71 L87.59 123.74 L90.1 123.76 L92.61 123.79 L95.11 123.81 L97.62 123.83 L100.13 123.84 L102.64 123.85 L105.14 123.86 L107.65 123.87 L110.16 123.87 L112.67 123.87 L115.17 123.86 L117.68 123.85 L120.19 123.82 L122.69 123.8 L125.2 123.77 L127.71 123.74 L130.22 123.7 L132.72 123.67 L135.23 123.64 L137.74 123.61 L140.24 123.59 L142.75 123.57 L145.26 123.56 L147.77 123.55 L150.27 123.56 L152.78 123.56 L155.29 123.58 L157.79 123.6 L160.3 123.62 L162.81 123.65 L165.32 123.69 L167.82 123.73 L170.33 123.78 L172.84 123.83 L175.35 123.88 L177.85 123.94 L180.36 124.01 L182.87 124.08 L185.37 124.16 L187.88 124.26 L190.39 124.39 L192.9 124.55 L195.4 124.72 L197.91 124.9 L200.42 125.1 L202.92 125.31 L205.43 125.53 L207.94 125.78 L210.45 126.06 L212.95 126.35 L215.46 126.66 L217.97 126.99 L220.48 127.35 L222.98 127.72 L225.49 128.13 L228 128.56 L230.5 129.02 L233.01 129.51 L235.52 130.02 L238.03 130.55 L240.53 131.1 L243.04 131.68 L245.55 132.29 L248.05 132.92 L250.56 133.58 L253.07 134.26 L255.58 134.97 L258.08 135.7 L260.59 136.46 L263.1 137.24 L265.6 138.05 L268.11 138.88 L270.62 139.74 L273.13 140.63 L275.63 141.54 L278.14 142.47 L280.65 143.43 L283.16 144.41 L285.66 145.43 L288.17 146.46 L290.68 147.53 L293.18 148.61 L295.69 149.73 L298.2 150.86 L300.71 152.03 L303.21 153.22 L305.72 154.44 L308.23 155.68 L310.73 156.95 L313.24 158.24 L315.75 159.56 L318.26 160.9 L320.76 162.27 L323.27 163.67 L325.78 165.09 L328.28 166.54 L330.79 168.02 L333.3 169.52 L335.81 171.04 L338.31 172.59 L340.82 174.17 L343.33 175.78 L345.84 177.41 L348.34 179.06 L350.85 180.74 L353.36 182.45 L355.86 184.18 L358.37 185.94 L360.88 187.72 L363.39 189.53 L365.89 191.37 L368.4 193.23 L370.91 195.12 L373.41 197.04 L375.92 198.97 L378.43 200.93 L380.94 202.92 L383.44 204.93 L385.95 206.96 L388.46 209.03 L390.96 211.11 L393.47 213.21 L395.98 215.33 L398.49 217.48 L400.99 219.64 L403.5 221.83 L406.01 224.05 L408.52 226.28 L411.02 228.53 L413.53 230.8 L416.04 233.09 L418.54 235.4 L421.05 237.73 L423.56 240.08 L426.07 242.45 L428.57 244.84 L431.08 247.25 L433.59 249.67 L436.09 252.11 L438.6 254.57 L441.11 257.05 L443.62 259.54 L446.12 262.05 L448.63 264.58 L451.14 267.13 L453.65 269.7 L456.15 272.28 L458.66 274.88 L461.17 277.5 L463.67 280.15 L466.18 282.84 L468.69 285.56 L471.2 288.31" fill="none" stroke="#1a1a1a" stroke-width="2.75" stroke-linejoin="round"/>
<path d="M72.55 166.11 L74.76 166.05 L76.96 166 L79.17 165.95 L81.38 165.91 L83.59 165.87 L85.79 165.83 L88 165.8 L90.21 165.77 L92.42 165.75 L94.62 165.73 L96.83 165.71 L99.04 165.7 L101.25 165.69 L103.45 165.68 L105.66 165.68 L107.87 165.68 L110.08 165.68 L112.28 165.69 L114.49 165.7 L116.7 165.72 L118.91 165.74 L121.11 165.77 L123.32 165.8 L125.53 165.83 L127.74 165.87 L129.94 165.91 L132.15 165.96 L134.36 166.01 L136.57 166.07 L138.77 166.14 L140.98 166.2 L143.19 166.28 L145.4 166.36 L147.6 166.44 L149.81 166.54 L152.02 166.65 L154.23 166.77 L156.43 166.89 L158.64 167.03 L160.85 167.18 L163.06 167.34 L165.26 167.5 L167.47 167.67 L169.68 167.85 L171.89 168.04 L174.09 168.24 L176.3 168.44 L178.51 168.66 L180.72 168.88 L182.92 169.11 L185.13 169.35 L187.34 169.6 L189.55 169.87 L191.75 170.15 L193.96 170.44 L196.17 170.74 L198.37 171.05 L200.58 171.36 L202.79 171.69 L205 172.03 L207.2 172.38 L209.41 172.75 L211.62 173.14 L213.83 173.53 L216.03 173.94 L218.24 174.36 L220.45 174.79 L222.66 175.23 L224.86 175.69 L227.07 176.17 L229.28 176.67 L231.49 177.19 L233.69 177.72 L235.9 178.26 L238.11 178.82 L240.32 179.39 L242.52 179.99 L244.73 180.6 L246.94 181.24 L249.15 181.9 L251.35 182.58 L253.56 183.27 L255.77 183.98 L257.98 184.71 L260.18 185.46 L262.39 186.24 L264.6 187.04 L266.81 187.86 L269.01 188.71 L271.22 189.58 L273.43 190.47 L275.64 191.38 L277.84 192.31 L280.05 193.27 L282.26 194.26 L284.47 195.27 L286.67 196.31 L288.88 197.37 L291.09 198.45 L293.3 199.56 L295.5 200.69 L297.71 201.85 L299.92 203.03 L302.13 204.24 L304.33 205.47 L306.54 206.73 L308.75 208.01 L310.96 209.32 L313.16 210.65 L315.37 212.01 L317.58 213.39 L319.79 214.8 L321.99 216.23 L324.2 217.69 L326.41 219.17 L328.61 220.68 L330.82 222.22 L333.03 223.78 L335.24 225.36 L337.44 226.97 L339.65 228.61 L341.86 230.28 L344.07 231.97 L346.27 233.68 L348.48 235.43 L350.69 237.2 L352.9 238.99 L355.1 240.81 L357.31 242.66 L359.52 244.53 L361.73 246.43 L363.93 248.35 L366.14 250.29 L368.35 252.26 L370.56 254.25 L372.76 256.28 L374.97 258.33 L377.18 260.41 L379.39 262.51 L381.59 264.62 L383.8 266.76 L386.01 268.9 L388.22 271.06 L390.42 273.27 L392.63 275.51 L394.84 277.79 L397.05 280.11 L399.25 282.48 L401.46 284.87 L403.67 287.31 L405.88 289.79 L408.08 292.34 L410.29 294.99 L412.5 297.71 L414.71 300.51 L416.91 303.37 L419.12 306.29 L421.33 309.26 L423.54 312.28 L426.31 316.97" fill="none" stroke="#1a1a1a" stroke-width="2.75" stroke-linejoin="round"/>
<rect x="72.55" y="46" width="443.35" height="286.6" fill="none" stroke="#1a1a1a" stroke-width="2.0"/>
<text x="113.5" y="69.2" font-size="14.5" text-anchor="start" font-weight="bold" fill="#1c1c1c"  stroke="#1c1c1c" stroke-width="0.35">A</text>
<text x="129.8" y="69.2" font-size="13.3" text-anchor="start" font-weight="normal" fill="#1c1c1c" >Ø</text>
<text x="144.4" y="69.2" font-size="13.3" text-anchor="start" font-weight="normal" fill="#1c1c1c" >210</text>
<text x="113.5" y="117.3" font-size="14.5" text-anchor="start" font-weight="bold" fill="#1c1c1c"  stroke="#1c1c1c" stroke-width="0.35">B</text>
<text x="129.8" y="117.3" font-size="13.3" text-anchor="start" font-weight="normal" fill="#1c1c1c" >Ø</text>
<text x="144.4" y="117.3" font-size="13.3" text-anchor="start" font-weight="normal" fill="#1c1c1c" >200</text>
<text x="113.5" y="160.5" font-size="14.5" text-anchor="start" font-weight="bold" fill="#1c1c1c"  stroke="#1c1c1c" stroke-width="0.35">C</text>
<text x="129.8" y="160.5" font-size="13.3" text-anchor="start" font-weight="normal" fill="#1c1c1c" >Ø</text>
<text x="144.4" y="160.5" font-size="13.3" text-anchor="start" font-weight="normal" fill="#1c1c1c" >188</text>
<text x="379.4" y="80.4" font-size="24" text-anchor="start" font-weight="bold" fill="#111" textLength="110" lengthAdjust="spacingAndGlyphs" stroke="#111" stroke-width="0.55">NM4 80/20</text>
<line x1="69.05" y1="332.6" x2="72.55" y2="332.6" stroke="#1a1a1a" stroke-width="1.4" />
<text x="59.2" y="336.8" font-size="13.7" text-anchor="middle" font-weight="normal" fill="#1c1c1c" >4</text>
<line x1="69.05" y1="306.55" x2="72.55" y2="306.55" stroke="#1a1a1a" stroke-width="1.4" />
<text x="59.2" y="310.75" font-size="13.7" text-anchor="middle" font-weight="normal" fill="#1c1c1c" >5</text>
<line x1="69.05" y1="280.49" x2="72.55" y2="280.49" stroke="#1a1a1a" stroke-width="1.4" />
<text x="59.2" y="284.69" font-size="13.7" text-anchor="middle" font-weight="normal" fill="#1c1c1c" >6</text>
<line x1="69.05" y1="254.44" x2="72.55" y2="254.44" stroke="#1a1a1a" stroke-width="1.4" />
<text x="59.2" y="258.64" font-size="13.7" text-anchor="middle" font-weight="normal" fill="#1c1c1c" >7</text>
<line x1="69.05" y1="228.38" x2="72.55" y2="228.38" stroke="#1a1a1a" stroke-width="1.4" />
<text x="59.2" y="232.58" font-size="13.7" text-anchor="middle" font-weight="normal" fill="#1c1c1c" >8</text>
<line x1="69.05" y1="202.33" x2="72.55" y2="202.33" stroke="#1a1a1a" stroke-width="1.4" />
<text x="59.2" y="206.53" font-size="13.7" text-anchor="middle" font-weight="normal" fill="#1c1c1c" >9</text>
<line x1="69.05" y1="176.27" x2="72.55" y2="176.27" stroke="#1a1a1a" stroke-width="1.4" />
<text x="59.2" y="180.47" font-size="13.7" text-anchor="middle" font-weight="normal" fill="#1c1c1c" >10</text>
<line x1="69.05" y1="150.22" x2="72.55" y2="150.22" stroke="#1a1a1a" stroke-width="1.4" />
<text x="59.2" y="154.42" font-size="13.7" text-anchor="middle" font-weight="normal" fill="#1c1c1c" >11</text>
<line x1="69.05" y1="124.16" x2="72.55" y2="124.16" stroke="#1a1a1a" stroke-width="1.4" />
<text x="59.2" y="128.36" font-size="13.7" text-anchor="middle" font-weight="normal" fill="#1c1c1c" >12</text>
<line x1="69.05" y1="98.11" x2="72.55" y2="98.11" stroke="#1a1a1a" stroke-width="1.4" />
<text x="59.2" y="102.31" font-size="13.7" text-anchor="middle" font-weight="normal" fill="#1c1c1c" >13</text>
<line x1="69.05" y1="72.05" x2="72.55" y2="72.05" stroke="#1a1a1a" stroke-width="1.4" />
<text x="59.2" y="76.25" font-size="13.7" text-anchor="middle" font-weight="normal" fill="#1c1c1c" >14</text>
<line x1="69.05" y1="46" x2="72.55" y2="46" stroke="#1a1a1a" stroke-width="1.4" />
<text x="59.2" y="50.2" font-size="13.7" text-anchor="middle" font-weight="normal" fill="#1c1c1c" >15</text>
<text transform="translate(44.9 199) rotate(-90)" font-size="17" font-weight="bold" fill="#1c1c1c" stroke="#1c1c1c" stroke-width="0.35">H<tspan font-size="13.8" font-weight="normal" stroke="none" dx="2.8">m</tspan></text>
<line x1="72.55" y1="41" x2="72.55" y2="46" stroke="#2b2b2b" stroke-width="1.15" />
<line x1="93.53" y1="43" x2="93.53" y2="46" stroke="#2b2b2b" stroke-width="1.15" />
<line x1="114.51" y1="43" x2="114.51" y2="46" stroke="#2b2b2b" stroke-width="1.15" />
<line x1="135.48" y1="43" x2="135.48" y2="46" stroke="#2b2b2b" stroke-width="1.15" />
<line x1="156.46" y1="41" x2="156.46" y2="46" stroke="#2b2b2b" stroke-width="1.15" />
<line x1="177.44" y1="43" x2="177.44" y2="46" stroke="#2b2b2b" stroke-width="1.15" />
<line x1="198.42" y1="43" x2="198.42" y2="46" stroke="#2b2b2b" stroke-width="1.15" />
<line x1="219.39" y1="43" x2="219.39" y2="46" stroke="#2b2b2b" stroke-width="1.15" />
<line x1="240.37" y1="41" x2="240.37" y2="46" stroke="#2b2b2b" stroke-width="1.15" />
<line x1="261.35" y1="43" x2="261.35" y2="46" stroke="#2b2b2b" stroke-width="1.15" />
<line x1="282.33" y1="43" x2="282.33" y2="46" stroke="#2b2b2b" stroke-width="1.15" />
<line x1="303.31" y1="43" x2="303.31" y2="46" stroke="#2b2b2b" stroke-width="1.15" />
<line x1="324.28" y1="41" x2="324.28" y2="46" stroke="#2b2b2b" stroke-width="1.15" />
<line x1="345.26" y1="43" x2="345.26" y2="46" stroke="#2b2b2b" stroke-width="1.15" />
<line x1="366.24" y1="43" x2="366.24" y2="46" stroke="#2b2b2b" stroke-width="1.15" />
<line x1="387.22" y1="43" x2="387.22" y2="46" stroke="#2b2b2b" stroke-width="1.15" />
<line x1="408.2" y1="41" x2="408.2" y2="46" stroke="#2b2b2b" stroke-width="1.15" />
<line x1="429.17" y1="43" x2="429.17" y2="46" stroke="#2b2b2b" stroke-width="1.15" />
<line x1="450.15" y1="43" x2="450.15" y2="46" stroke="#2b2b2b" stroke-width="1.15" />
<line x1="471.13" y1="43" x2="471.13" y2="46" stroke="#2b2b2b" stroke-width="1.15" />
<line x1="492.11" y1="41" x2="492.11" y2="46" stroke="#2b2b2b" stroke-width="1.15" />
<line x1="513.08" y1="43" x2="513.08" y2="46" stroke="#2b2b2b" stroke-width="1.15" />
<text x="71.95" y="37.8" font-size="13.7" text-anchor="middle" font-weight="normal" fill="#1c1c1c" >0</text>
<text x="82.8" y="34.8" font-size="13.3" text-anchor="start" font-weight="normal" fill="#1c1c1c" >U.S. g.p.m.</text>
<text x="158.96" y="37.8" font-size="13.7" text-anchor="middle" font-weight="normal" fill="#1c1c1c" >100</text>
<text x="241.37" y="37.8" font-size="13.7" text-anchor="middle" font-weight="normal" fill="#1c1c1c" >200</text>
<text x="325.28" y="37.8" font-size="13.7" text-anchor="middle" font-weight="normal" fill="#1c1c1c" >300</text>
<text x="409.2" y="37.8" font-size="13.7" text-anchor="middle" font-weight="normal" fill="#1c1c1c" >400</text>
<text x="493.11" y="37.8" font-size="13.7" text-anchor="middle" font-weight="normal" fill="#1c1c1c" >500</text>
<line x1="515.9" y1="325.64" x2="521.9" y2="325.64" stroke="#2b2b2b" stroke-width="1.15" />
<line x1="515.9" y1="317.7" x2="518.9" y2="317.7" stroke="#2b2b2b" stroke-width="1.15" />
<line x1="515.9" y1="309.76" x2="521.9" y2="309.76" stroke="#2b2b2b" stroke-width="1.15" />
<line x1="515.9" y1="301.81" x2="518.9" y2="301.81" stroke="#2b2b2b" stroke-width="1.15" />
<line x1="515.9" y1="293.87" x2="521.9" y2="293.87" stroke="#2b2b2b" stroke-width="1.15" />
<line x1="515.9" y1="285.93" x2="518.9" y2="285.93" stroke="#2b2b2b" stroke-width="1.15" />
<line x1="515.9" y1="277.99" x2="521.9" y2="277.99" stroke="#2b2b2b" stroke-width="1.15" />
<line x1="515.9" y1="270.05" x2="518.9" y2="270.05" stroke="#2b2b2b" stroke-width="1.15" />
<line x1="515.9" y1="262.11" x2="521.9" y2="262.11" stroke="#2b2b2b" stroke-width="1.15" />
<line x1="515.9" y1="254.17" x2="518.9" y2="254.17" stroke="#2b2b2b" stroke-width="1.15" />
<line x1="515.9" y1="246.22" x2="521.9" y2="246.22" stroke="#2b2b2b" stroke-width="1.15" />
<line x1="515.9" y1="238.28" x2="518.9" y2="238.28" stroke="#2b2b2b" stroke-width="1.15" />
<line x1="515.9" y1="230.34" x2="521.9" y2="230.34" stroke="#2b2b2b" stroke-width="1.15" />
<line x1="515.9" y1="222.4" x2="518.9" y2="222.4" stroke="#2b2b2b" stroke-width="1.15" />
<line x1="515.9" y1="214.46" x2="521.9" y2="214.46" stroke="#2b2b2b" stroke-width="1.15" />
<line x1="515.9" y1="206.52" x2="518.9" y2="206.52" stroke="#2b2b2b" stroke-width="1.15" />
<line x1="515.9" y1="198.58" x2="521.9" y2="198.58" stroke="#2b2b2b" stroke-width="1.15" />
<line x1="515.9" y1="190.63" x2="518.9" y2="190.63" stroke="#2b2b2b" stroke-width="1.15" />
<line x1="515.9" y1="182.69" x2="521.9" y2="182.69" stroke="#2b2b2b" stroke-width="1.15" />
<line x1="515.9" y1="174.75" x2="518.9" y2="174.75" stroke="#2b2b2b" stroke-width="1.15" />
<line x1="515.9" y1="166.81" x2="521.9" y2="166.81" stroke="#2b2b2b" stroke-width="1.15" />
<line x1="515.9" y1="158.87" x2="518.9" y2="158.87" stroke="#2b2b2b" stroke-width="1.15" />
<line x1="515.9" y1="150.93" x2="521.9" y2="150.93" stroke="#2b2b2b" stroke-width="1.15" />
<line x1="515.9" y1="142.99" x2="518.9" y2="142.99" stroke="#2b2b2b" stroke-width="1.15" />
<line x1="515.9" y1="135.04" x2="521.9" y2="135.04" stroke="#2b2b2b" stroke-width="1.15" />
<line x1="515.9" y1="127.1" x2="518.9" y2="127.1" stroke="#2b2b2b" stroke-width="1.15" />
<line x1="515.9" y1="119.16" x2="521.9" y2="119.16" stroke="#2b2b2b" stroke-width="1.15" />
<line x1="515.9" y1="111.22" x2="518.9" y2="111.22" stroke="#2b2b2b" stroke-width="1.15" />
<line x1="515.9" y1="103.28" x2="521.9" y2="103.28" stroke="#2b2b2b" stroke-width="1.15" />
<line x1="515.9" y1="95.34" x2="518.9" y2="95.34" stroke="#2b2b2b" stroke-width="1.15" />
<line x1="515.9" y1="87.4" x2="521.9" y2="87.4" stroke="#2b2b2b" stroke-width="1.15" />
<line x1="515.9" y1="79.45" x2="518.9" y2="79.45" stroke="#2b2b2b" stroke-width="1.15" />
<line x1="515.9" y1="71.51" x2="521.9" y2="71.51" stroke="#2b2b2b" stroke-width="1.15" />
<line x1="515.9" y1="63.57" x2="518.9" y2="63.57" stroke="#2b2b2b" stroke-width="1.15" />
<line x1="515.9" y1="55.63" x2="521.9" y2="55.63" stroke="#2b2b2b" stroke-width="1.15" />
<text x="527.6" y="281.39" font-size="14" text-anchor="start" font-weight="normal" fill="#1c1c1c" >20</text>
<text x="527.6" y="201.98" font-size="14" text-anchor="start" font-weight="normal" fill="#1c1c1c" >30</text>
<text x="527.6" y="122.56" font-size="14" text-anchor="start" font-weight="normal" fill="#1c1c1c" >40</text>
<text x="527.6" y="59.03" font-size="14" text-anchor="start" font-weight="normal" fill="#1c1c1c" >48</text>
<text transform="translate(560 200.6) rotate(-90)" font-size="14" fill="#1c1c1c" textLength="20.8" lengthAdjust="spacingAndGlyphs">H ft</text>
<line x1="72.55" y1="332.6" x2="72.55" y2="335.8" stroke="#1a1a1a" stroke-width="1.3" />
<line x1="146.44" y1="332.6" x2="146.44" y2="335.8" stroke="#1a1a1a" stroke-width="1.3" />
<line x1="220.33" y1="332.6" x2="220.33" y2="335.8" stroke="#1a1a1a" stroke-width="1.3" />
<line x1="294.22" y1="332.6" x2="294.22" y2="335.8" stroke="#1a1a1a" stroke-width="1.3" />
<line x1="368.12" y1="332.6" x2="368.12" y2="335.8" stroke="#1a1a1a" stroke-width="1.3" />
<line x1="442.01" y1="332.6" x2="442.01" y2="335.8" stroke="#1a1a1a" stroke-width="1.3" />
<line x1="515.9" y1="332.6" x2="515.9" y2="335.8" stroke="#1a1a1a" stroke-width="1.3" />
<text x="146.64" y="349" font-size="13.7" text-anchor="middle" font-weight="normal" fill="#1c1c1c" >20</text>
<text x="220.53" y="349" font-size="13.7" text-anchor="middle" font-weight="normal" fill="#1c1c1c" >40</text>
<text x="294.42" y="349" font-size="13.7" text-anchor="middle" font-weight="normal" fill="#1c1c1c" >60</text>
<text x="368.32" y="349" font-size="13.7" text-anchor="middle" font-weight="normal" fill="#1c1c1c" >80</text>
<text x="443.21" y="349" font-size="13.7" text-anchor="middle" font-weight="normal" fill="#1c1c1c" >100</text>
<text x="517.5" y="348.6" font-size="13.7" text-anchor="middle" font-weight="normal" fill="#1c1c1c" >120</text>
<text x="72.05" y="349" font-size="13.7" text-anchor="middle" font-weight="normal" fill="#1c1c1c" >0</text>
<text x="81.2" y="354.6" font-size="16.5" text-anchor="start" font-weight="bold" fill="#1c1c1c"  stroke="#1c1c1c" stroke-width="0.35">Q</text>
<text x="98.5" y="349.5" font-size="12.8" text-anchor="start" font-weight="normal" fill="#1c1c1c" >m<tspan font-size="7.8" dy="-4.6">3</tspan><tspan dy="4.6">/h</tspan></text>
</g>
<g id="mid">
<text x="72.05" y="367" font-size="13.7" text-anchor="middle" font-weight="normal" fill="#1c1c1c" >0</text>
<text x="98.5" y="366.6" font-size="13" text-anchor="start" font-weight="normal" fill="#1c1c1c" >l/min</text>
<text x="186.39" y="367" font-size="13.7" text-anchor="middle" font-weight="normal" fill="#1c1c1c" >500</text>
<text x="297.22" y="367" font-size="13.7" text-anchor="middle" font-weight="normal" fill="#1c1c1c" >1000</text>
<text x="408.06" y="367" font-size="13.7" text-anchor="middle" font-weight="normal" fill="#1c1c1c" >1500</text>
<text x="520.2" y="366.8" font-size="13.6" text-anchor="middle" font-weight="normal" fill="#1c1c1c" >2000</text>
<line x1="72.55" y1="375.8" x2="515.9" y2="375.8" stroke="#1a1a1a" stroke-width="2.0" />
<line x1="72.55" y1="370.3" x2="72.55" y2="375.8" stroke="#2b2b2b" stroke-width="1.15" />
<line x1="83.63" y1="373.2" x2="83.63" y2="375.8" stroke="#2b2b2b" stroke-width="1.15" />
<line x1="94.72" y1="370.3" x2="94.72" y2="375.8" stroke="#2b2b2b" stroke-width="1.15" />
<line x1="105.8" y1="373.2" x2="105.8" y2="375.8" stroke="#2b2b2b" stroke-width="1.15" />
<line x1="116.88" y1="370.3" x2="116.88" y2="375.8" stroke="#2b2b2b" stroke-width="1.15" />
<line x1="127.97" y1="373.2" x2="127.97" y2="375.8" stroke="#2b2b2b" stroke-width="1.15" />
<line x1="139.05" y1="370.3" x2="139.05" y2="375.8" stroke="#2b2b2b" stroke-width="1.15" />
<line x1="150.14" y1="373.2" x2="150.14" y2="375.8" stroke="#2b2b2b" stroke-width="1.15" />
<line x1="161.22" y1="370.3" x2="161.22" y2="375.8" stroke="#2b2b2b" stroke-width="1.15" />
<line x1="172.3" y1="373.2" x2="172.3" y2="375.8" stroke="#2b2b2b" stroke-width="1.15" />
<line x1="183.39" y1="370.3" x2="183.39" y2="375.8" stroke="#2b2b2b" stroke-width="1.15" />
<line x1="194.47" y1="373.2" x2="194.47" y2="375.8" stroke="#2b2b2b" stroke-width="1.15" />
<line x1="205.56" y1="370.3" x2="205.56" y2="375.8" stroke="#2b2b2b" stroke-width="1.15" />
<line x1="216.64" y1="373.2" x2="216.64" y2="375.8" stroke="#2b2b2b" stroke-width="1.15" />
<line x1="227.72" y1="370.3" x2="227.72" y2="375.8" stroke="#2b2b2b" stroke-width="1.15" />
<line x1="238.81" y1="373.2" x2="238.81" y2="375.8" stroke="#2b2b2b" stroke-width="1.15" />
<line x1="249.89" y1="370.3" x2="249.89" y2="375.8" stroke="#2b2b2b" stroke-width="1.15" />
<line x1="260.97" y1="373.2" x2="260.97" y2="375.8" stroke="#2b2b2b" stroke-width="1.15" />
<line x1="272.06" y1="370.3" x2="272.06" y2="375.8" stroke="#2b2b2b" stroke-width="1.15" />
<line x1="283.14" y1="373.2" x2="283.14" y2="375.8" stroke="#2b2b2b" stroke-width="1.15" />
<line x1="294.22" y1="370.3" x2="294.22" y2="375.8" stroke="#2b2b2b" stroke-width="1.15" />
<line x1="305.31" y1="373.2" x2="305.31" y2="375.8" stroke="#2b2b2b" stroke-width="1.15" />
<line x1="316.39" y1="370.3" x2="316.39" y2="375.8" stroke="#2b2b2b" stroke-width="1.15" />
<line x1="327.48" y1="373.2" x2="327.48" y2="375.8" stroke="#2b2b2b" stroke-width="1.15" />
<line x1="338.56" y1="370.3" x2="338.56" y2="375.8" stroke="#2b2b2b" stroke-width="1.15" />
<line x1="349.64" y1="373.2" x2="349.64" y2="375.8" stroke="#2b2b2b" stroke-width="1.15" />
<line x1="360.73" y1="370.3" x2="360.73" y2="375.8" stroke="#2b2b2b" stroke-width="1.15" />
<line x1="371.81" y1="373.2" x2="371.81" y2="375.8" stroke="#2b2b2b" stroke-width="1.15" />
<line x1="382.89" y1="370.3" x2="382.89" y2="375.8" stroke="#2b2b2b" stroke-width="1.15" />
<line x1="393.98" y1="373.2" x2="393.98" y2="375.8" stroke="#2b2b2b" stroke-width="1.15" />
<line x1="405.06" y1="370.3" x2="405.06" y2="375.8" stroke="#2b2b2b" stroke-width="1.15" />
<line x1="416.15" y1="373.2" x2="416.15" y2="375.8" stroke="#2b2b2b" stroke-width="1.15" />
<line x1="427.23" y1="370.3" x2="427.23" y2="375.8" stroke="#2b2b2b" stroke-width="1.15" />
<line x1="438.31" y1="373.2" x2="438.31" y2="375.8" stroke="#2b2b2b" stroke-width="1.15" />
<line x1="449.4" y1="370.3" x2="449.4" y2="375.8" stroke="#2b2b2b" stroke-width="1.15" />
<line x1="460.48" y1="373.2" x2="460.48" y2="375.8" stroke="#2b2b2b" stroke-width="1.15" />
<line x1="471.56" y1="370.3" x2="471.56" y2="375.8" stroke="#2b2b2b" stroke-width="1.15" />
<line x1="482.65" y1="373.2" x2="482.65" y2="375.8" stroke="#2b2b2b" stroke-width="1.15" />
<line x1="493.73" y1="370.3" x2="493.73" y2="375.8" stroke="#2b2b2b" stroke-width="1.15" />
<line x1="504.82" y1="373.2" x2="504.82" y2="375.8" stroke="#2b2b2b" stroke-width="1.15" />
<line x1="515.9" y1="370.3" x2="515.9" y2="375.8" stroke="#2b2b2b" stroke-width="1.15" />
<line x1="72.55" y1="375.8" x2="72.55" y2="381" stroke="#2b2b2b" stroke-width="1.15" />
<line x1="85.85" y1="375.8" x2="85.85" y2="378.4" stroke="#2b2b2b" stroke-width="1.15" />
<line x1="99.15" y1="375.8" x2="99.15" y2="381" stroke="#2b2b2b" stroke-width="1.15" />
<line x1="112.45" y1="375.8" x2="112.45" y2="378.4" stroke="#2b2b2b" stroke-width="1.15" />
<line x1="125.75" y1="375.8" x2="125.75" y2="381" stroke="#2b2b2b" stroke-width="1.15" />
<line x1="139.05" y1="375.8" x2="139.05" y2="378.4" stroke="#2b2b2b" stroke-width="1.15" />
<line x1="152.35" y1="375.8" x2="152.35" y2="381" stroke="#2b2b2b" stroke-width="1.15" />
<line x1="165.65" y1="375.8" x2="165.65" y2="378.4" stroke="#2b2b2b" stroke-width="1.15" />
<line x1="178.95" y1="375.8" x2="178.95" y2="381" stroke="#2b2b2b" stroke-width="1.15" />
<line x1="192.25" y1="375.8" x2="192.25" y2="378.4" stroke="#2b2b2b" stroke-width="1.15" />
<line x1="205.56" y1="375.8" x2="205.56" y2="381" stroke="#2b2b2b" stroke-width="1.15" />
<line x1="218.86" y1="375.8" x2="218.86" y2="378.4" stroke="#2b2b2b" stroke-width="1.15" />
<line x1="232.16" y1="375.8" x2="232.16" y2="381" stroke="#2b2b2b" stroke-width="1.15" />
<line x1="245.46" y1="375.8" x2="245.46" y2="378.4" stroke="#2b2b2b" stroke-width="1.15" />
<line x1="258.76" y1="375.8" x2="258.76" y2="381" stroke="#2b2b2b" stroke-width="1.15" />
<line x1="272.06" y1="375.8" x2="272.06" y2="378.4" stroke="#2b2b2b" stroke-width="1.15" />
<line x1="285.36" y1="375.8" x2="285.36" y2="381" stroke="#2b2b2b" stroke-width="1.15" />
<line x1="298.66" y1="375.8" x2="298.66" y2="378.4" stroke="#2b2b2b" stroke-width="1.15" />
<line x1="311.96" y1="375.8" x2="311.96" y2="381" stroke="#2b2b2b" stroke-width="1.15" />
<line x1="325.26" y1="375.8" x2="325.26" y2="378.4" stroke="#2b2b2b" stroke-width="1.15" />
<line x1="338.56" y1="375.8" x2="338.56" y2="381" stroke="#2b2b2b" stroke-width="1.15" />
<line x1="351.86" y1="375.8" x2="351.86" y2="378.4" stroke="#2b2b2b" stroke-width="1.15" />
<line x1="365.16" y1="375.8" x2="365.16" y2="381" stroke="#2b2b2b" stroke-width="1.15" />
<line x1="378.46" y1="375.8" x2="378.46" y2="378.4" stroke="#2b2b2b" stroke-width="1.15" />
<line x1="391.76" y1="375.8" x2="391.76" y2="381" stroke="#2b2b2b" stroke-width="1.15" />
<line x1="405.06" y1="375.8" x2="405.06" y2="378.4" stroke="#2b2b2b" stroke-width="1.15" />
<line x1="418.36" y1="375.8" x2="418.36" y2="381" stroke="#2b2b2b" stroke-width="1.15" />
<line x1="431.66" y1="375.8" x2="431.66" y2="378.4" stroke="#2b2b2b" stroke-width="1.15" />
<line x1="444.96" y1="375.8" x2="444.96" y2="381" stroke="#2b2b2b" stroke-width="1.15" />
<line x1="458.26" y1="375.8" x2="458.26" y2="378.4" stroke="#2b2b2b" stroke-width="1.15" />
<line x1="471.56" y1="375.8" x2="471.56" y2="381" stroke="#2b2b2b" stroke-width="1.15" />
<line x1="484.87" y1="375.8" x2="484.87" y2="378.4" stroke="#2b2b2b" stroke-width="1.15" />
<line x1="498.17" y1="375.8" x2="498.17" y2="381" stroke="#2b2b2b" stroke-width="1.15" />
<line x1="511.47" y1="375.8" x2="511.47" y2="378.4" stroke="#2b2b2b" stroke-width="1.15" />
<text x="72.05" y="394.6" font-size="13.7" text-anchor="middle" font-weight="normal" fill="#1c1c1c" >0</text>
<text x="98.5" y="390.4" font-size="13" text-anchor="start" font-weight="normal" fill="#1c1c1c" >l/s</text>
<text x="205.56" y="394.6" font-size="13.7" text-anchor="middle" font-weight="normal" fill="#1c1c1c" >10</text>
<text x="338.56" y="394.6" font-size="13.7" text-anchor="middle" font-weight="normal" fill="#1c1c1c" >20</text>
<text x="471.56" y="394.6" font-size="13.7" text-anchor="middle" font-weight="normal" fill="#1c1c1c" >30</text>
</g>
<g id="pchart">
<line x1="72.55" y1="428.19" x2="515.9" y2="428.19" stroke="#262626" stroke-width="1.15" />
<line x1="72.55" y1="446.07" x2="515.9" y2="446.07" stroke="#262626" stroke-width="1.15" />
<line x1="72.55" y1="463.96" x2="515.9" y2="463.96" stroke="#262626" stroke-width="1.15" />
<line x1="72.55" y1="481.85" x2="515.9" y2="481.85" stroke="#262626" stroke-width="1.15" />
<line x1="72.55" y1="499.74" x2="515.9" y2="499.74" stroke="#262626" stroke-width="1.15" />
<line x1="72.55" y1="517.62" x2="515.9" y2="517.62" stroke="#262626" stroke-width="1.15" />
<line x1="72.55" y1="535.51" x2="515.9" y2="535.51" stroke="#262626" stroke-width="1.15" />
<line x1="91.02" y1="410.3" x2="91.02" y2="553.4" stroke="#262626" stroke-width="1.15" />
<line x1="109.5" y1="410.3" x2="109.5" y2="553.4" stroke="#262626" stroke-width="1.15" />
<line x1="127.97" y1="410.3" x2="127.97" y2="553.4" stroke="#262626" stroke-width="1.15" />
<line x1="146.44" y1="410.3" x2="146.44" y2="553.4" stroke="#262626" stroke-width="1.15" />
<line x1="164.91" y1="410.3" x2="164.91" y2="553.4" stroke="#262626" stroke-width="1.15" />
<line x1="183.39" y1="410.3" x2="183.39" y2="553.4" stroke="#262626" stroke-width="1.15" />
<line x1="201.86" y1="410.3" x2="201.86" y2="553.4" stroke="#262626" stroke-width="1.15" />
<line x1="220.33" y1="410.3" x2="220.33" y2="553.4" stroke="#262626" stroke-width="1.15" />
<line x1="238.81" y1="410.3" x2="238.81" y2="553.4" stroke="#262626" stroke-width="1.15" />
<line x1="257.28" y1="410.3" x2="257.28" y2="553.4" stroke="#262626" stroke-width="1.15" />
<line x1="275.75" y1="410.3" x2="275.75" y2="553.4" stroke="#262626" stroke-width="1.15" />
<line x1="294.22" y1="410.3" x2="294.22" y2="553.4" stroke="#262626" stroke-width="1.15" />
<line x1="312.7" y1="410.3" x2="312.7" y2="553.4" stroke="#262626" stroke-width="1.15" />
<line x1="331.17" y1="410.3" x2="331.17" y2="553.4" stroke="#262626" stroke-width="1.15" />
<line x1="349.64" y1="410.3" x2="349.64" y2="553.4" stroke="#262626" stroke-width="1.15" />
<line x1="368.12" y1="410.3" x2="368.12" y2="553.4" stroke="#262626" stroke-width="1.15" />
<line x1="386.59" y1="410.3" x2="386.59" y2="553.4" stroke="#262626" stroke-width="1.15" />
<line x1="405.06" y1="410.3" x2="405.06" y2="553.4" stroke="#262626" stroke-width="1.15" />
<line x1="423.54" y1="410.3" x2="423.54" y2="553.4" stroke="#262626" stroke-width="1.15" />
<line x1="442.01" y1="410.3" x2="442.01" y2="553.4" stroke="#262626" stroke-width="1.15" />
<line x1="460.48" y1="410.3" x2="460.48" y2="553.4" stroke="#262626" stroke-width="1.15" />
<line x1="478.95" y1="410.3" x2="478.95" y2="553.4" stroke="#262626" stroke-width="1.15" />
<line x1="497.43" y1="410.3" x2="497.43" y2="553.4" stroke="#262626" stroke-width="1.15" />
<rect x="499" y="418" width="13.5" height="13" fill="#fff"/>
<rect x="473.5" y="443.5" width="14" height="13.5" fill="#fff"/>
<rect x="429" y="467.5" width="15" height="14" fill="#fff"/>
<path d="M72.55 509.2 L75.34 508.41 L78.13 507.61 L80.92 506.81 L83.7 506.02 L86.49 505.22 L89.28 504.42 L92.07 503.61 L94.86 502.81 L97.65 502 L100.43 501.18 L103.22 500.37 L106.01 499.55 L108.8 498.72 L111.59 497.9 L114.38 497.07 L117.16 496.24 L119.95 495.4 L122.74 494.57 L125.53 493.74 L128.32 492.9 L131.11 492.07 L133.89 491.23 L136.68 490.4 L139.47 489.57 L142.26 488.73 L145.05 487.9 L147.84 487.07 L150.62 486.24 L153.41 485.41 L156.2 484.59 L158.99 483.76 L161.78 482.93 L164.57 482.11 L167.35 481.29 L170.14 480.47 L172.93 479.65 L175.72 478.84 L178.51 478.03 L181.3 477.22 L184.08 476.41 L186.87 475.6 L189.66 474.8 L192.45 474 L195.24 473.21 L198.03 472.42 L200.81 471.63 L203.6 470.84 L206.39 470.06 L209.18 469.29 L211.97 468.52 L214.76 467.75 L217.54 466.99 L220.33 466.23 L223.12 465.47 L225.91 464.72 L228.7 463.98 L231.49 463.24 L234.28 462.51 L237.06 461.78 L239.85 461.06 L242.64 460.34 L245.43 459.63 L248.22 458.92 L251.01 458.23 L253.79 457.54 L256.58 456.85 L259.37 456.17 L262.16 455.5 L264.95 454.83 L267.74 454.18 L270.52 453.53 L273.31 452.89 L276.1 452.25 L278.89 451.62 L281.68 451 L284.47 450.39 L287.25 449.79 L290.04 449.19 L292.83 448.61 L295.62 448.03 L298.41 447.46 L301.2 446.9 L303.98 446.34 L306.77 445.8 L309.56 445.27 L312.35 444.75 L315.14 444.23 L317.93 443.73 L320.71 443.23 L323.5 442.75 L326.29 442.28 L329.08 441.81 L331.87 441.35 L334.66 440.91 L337.44 440.47 L340.23 440.05 L343.02 439.63 L345.81 439.22 L348.6 438.83 L351.39 438.44 L354.17 438.06 L356.96 437.7 L359.75 437.34 L362.54 436.99 L365.33 436.65 L368.12 436.33 L370.91 436.01 L373.69 435.7 L376.48 435.4 L379.27 435.11 L382.06 434.84 L384.85 434.57 L387.64 434.31 L390.42 434.06 L393.21 433.82 L396 433.6 L398.79 433.38 L401.58 433.17 L404.37 432.97 L407.15 432.79 L409.94 432.61 L412.73 432.44 L415.52 432.28 L418.31 432.14 L421.1 432 L423.88 431.87 L426.67 431.76 L429.46 431.65 L432.25 431.55 L435.04 431.47 L437.83 431.39 L440.61 431.33 L443.4 431.27 L446.19 431.23 L448.98 431.19 L451.77 431.17 L454.56 431.15 L457.34 431.15 L460.13 431.16 L462.92 431.17 L465.71 431.2 L468.5 431.23 L471.29 431.28 L474.07 431.34 L476.86 431.41 L479.65 431.5 L482.44 431.6 L485.23 431.7 L488.02 431.82 L490.8 431.94 L493.59 432.06 L496.38 432.2 L499.17 432.34 L501.96 432.48 L504.75 432.62 L507.53 432.77 L510.32 432.92 L513.11 433.08 L515.9 433.25" fill="none" stroke="#1a1a1a" stroke-width="2.2"/>
<path d="M72.55 515.25 L75.06 514.68 L77.56 514.11 L80.07 513.55 L82.58 512.98 L85.09 512.41 L87.59 511.83 L90.1 511.26 L92.61 510.68 L95.11 510.1 L97.62 509.51 L100.13 508.92 L102.64 508.32 L105.14 507.72 L107.65 507.11 L110.16 506.5 L112.67 505.88 L115.17 505.26 L117.68 504.65 L120.19 504.03 L122.69 503.41 L125.2 502.8 L127.71 502.18 L130.22 501.56 L132.72 500.94 L135.23 500.33 L137.74 499.71 L140.24 499.09 L142.75 498.48 L145.26 497.86 L147.77 497.24 L150.27 496.62 L152.78 496.01 L155.29 495.39 L157.79 494.77 L160.3 494.15 L162.81 493.53 L165.32 492.92 L167.82 492.3 L170.33 491.69 L172.84 491.08 L175.35 490.48 L177.85 489.87 L180.36 489.27 L182.87 488.67 L185.37 488.07 L187.88 487.48 L190.39 486.89 L192.9 486.3 L195.4 485.72 L197.91 485.14 L200.42 484.56 L202.92 483.98 L205.43 483.41 L207.94 482.85 L210.45 482.29 L212.95 481.73 L215.46 481.18 L217.97 480.63 L220.48 480.09 L222.98 479.55 L225.49 479.02 L228 478.48 L230.5 477.96 L233.01 477.44 L235.52 476.92 L238.03 476.41 L240.53 475.9 L243.04 475.39 L245.55 474.9 L248.05 474.4 L250.56 473.91 L253.07 473.43 L255.58 472.95 L258.08 472.47 L260.59 472 L263.1 471.53 L265.6 471.07 L268.11 470.61 L270.62 470.16 L273.13 469.72 L275.63 469.27 L278.14 468.84 L280.65 468.41 L283.16 467.98 L285.66 467.56 L288.17 467.14 L290.68 466.73 L293.18 466.32 L295.69 465.92 L298.2 465.53 L300.71 465.14 L303.21 464.75 L305.72 464.37 L308.23 464 L310.73 463.63 L313.24 463.26 L315.75 462.9 L318.26 462.55 L320.76 462.2 L323.27 461.85 L325.78 461.51 L328.28 461.18 L330.79 460.85 L333.3 460.53 L335.81 460.21 L338.31 459.89 L340.82 459.58 L343.33 459.28 L345.84 458.98 L348.34 458.68 L350.85 458.39 L353.36 458.11 L355.86 457.83 L358.37 457.55 L360.88 457.28 L363.39 457.01 L365.89 456.75 L368.4 456.49 L370.91 456.24 L373.41 455.99 L375.92 455.75 L378.43 455.51 L380.94 455.28 L383.44 455.05 L385.95 454.83 L388.46 454.61 L390.96 454.39 L393.47 454.18 L395.98 453.97 L398.49 453.77 L400.99 453.57 L403.5 453.38 L406.01 453.19 L408.52 453.01 L411.02 452.83 L413.53 452.65 L416.04 452.48 L418.54 452.32 L421.05 452.15 L423.56 451.99 L426.07 451.84 L428.57 451.69 L431.08 451.55 L433.59 451.4 L436.09 451.27 L438.6 451.14 L441.11 451.01 L443.62 450.88 L446.12 450.76 L448.63 450.65 L451.14 450.53 L453.65 450.42 L456.15 450.31 L458.66 450.2 L461.17 450.1 L463.67 450 L466.18 449.9 L468.69 449.81 L471.2 449.72" fill="none" stroke="#1a1a1a" stroke-width="2.2"/>
<path d="M72.55 519.34 L74.78 518.87 L77.01 518.4 L79.24 517.93 L81.47 517.46 L83.7 516.99 L85.93 516.52 L88.16 516.06 L90.4 515.6 L92.63 515.13 L94.86 514.67 L97.09 514.21 L99.32 513.75 L101.55 513.29 L103.78 512.83 L106.01 512.37 L108.24 511.91 L110.47 511.46 L112.7 511 L114.93 510.55 L117.16 510.09 L119.39 509.64 L121.63 509.19 L123.86 508.74 L126.09 508.29 L128.32 507.84 L130.55 507.39 L132.78 506.94 L135.01 506.5 L137.24 506.06 L139.47 505.61 L141.7 505.17 L143.93 504.74 L146.16 504.3 L148.39 503.86 L150.62 503.43 L152.85 503 L155.09 502.58 L157.32 502.16 L159.55 501.74 L161.78 501.33 L164.01 500.92 L166.24 500.51 L168.47 500.11 L170.7 499.7 L172.93 499.3 L175.16 498.9 L177.39 498.5 L179.62 498.11 L181.85 497.72 L184.08 497.33 L186.32 496.94 L188.55 496.56 L190.78 496.18 L193.01 495.8 L195.24 495.43 L197.47 495.06 L199.7 494.69 L201.93 494.33 L204.16 493.97 L206.39 493.61 L208.62 493.25 L210.85 492.9 L213.08 492.55 L215.31 492.21 L217.54 491.87 L219.78 491.53 L222.01 491.19 L224.24 490.86 L226.47 490.53 L228.7 490.2 L230.93 489.88 L233.16 489.55 L235.39 489.24 L237.62 488.92 L239.85 488.61 L242.08 488.3 L244.31 488 L246.54 487.69 L248.77 487.39 L251.01 487.1 L253.24 486.81 L255.47 486.52 L257.7 486.23 L259.93 485.95 L262.16 485.67 L264.39 485.39 L266.62 485.11 L268.85 484.84 L271.08 484.58 L273.31 484.31 L275.54 484.05 L277.77 483.79 L280 483.53 L282.24 483.28 L284.47 483.03 L286.7 482.79 L288.93 482.54 L291.16 482.31 L293.39 482.07 L295.62 481.84 L297.85 481.61 L300.08 481.38 L302.31 481.16 L304.54 480.94 L306.77 480.72 L309 480.5 L311.23 480.29 L313.46 480.09 L315.7 479.88 L317.93 479.68 L320.16 479.49 L322.39 479.29 L324.62 479.1 L326.85 478.92 L329.08 478.73 L331.31 478.55 L333.54 478.37 L335.77 478.2 L338 478.03 L340.23 477.86 L342.46 477.7 L344.69 477.54 L346.93 477.39 L349.16 477.23 L351.39 477.08 L353.62 476.94 L355.85 476.8 L358.08 476.66 L360.31 476.52 L362.54 476.39 L364.77 476.26 L367 476.14 L369.23 476.02 L371.46 475.9 L373.69 475.79 L375.92 475.68 L378.15 475.57 L380.39 475.47 L382.62 475.37 L384.85 475.27 L387.08 475.18 L389.31 475.09 L391.54 475.01 L393.77 474.93 L396 474.85 L398.23 474.78 L400.46 474.71 L402.69 474.64 L404.92 474.58 L407.15 474.52 L409.38 474.47 L411.62 474.42 L413.85 474.38 L416.08 474.34 L418.31 474.3 L420.54 474.27 L422.77 474.24 L425 474.21 L427.23 474.19" fill="none" stroke="#1a1a1a" stroke-width="2.2"/>
<rect x="72.55" y="410.3" width="443.35" height="143.1" fill="none" stroke="#1a1a1a" stroke-width="2.0"/>
<text x="499.8" y="428.7" font-size="15.2" text-anchor="start" font-weight="bold" fill="#1c1c1c"  stroke="#1c1c1c" stroke-width="0.35">A</text>
<text x="475.2" y="454.6" font-size="15" text-anchor="start" font-weight="bold" fill="#1c1c1c"  stroke="#1c1c1c" stroke-width="0.35">B</text>
<text x="431" y="478.5" font-size="15" text-anchor="start" font-weight="bold" fill="#1c1c1c"  stroke="#1c1c1c" stroke-width="0.35">C</text>
<line x1="69.05" y1="553.4" x2="72.55" y2="553.4" stroke="#1a1a1a" stroke-width="1.4" />
<text x="60.8" y="557.4" font-size="13.7" text-anchor="middle" font-weight="normal" fill="#1c1c1c" >0</text>
<line x1="69.05" y1="517.62" x2="72.55" y2="517.62" stroke="#1a1a1a" stroke-width="1.4" />
<text x="60.8" y="521.62" font-size="13.7" text-anchor="middle" font-weight="normal" fill="#1c1c1c" >1</text>
<line x1="69.05" y1="481.85" x2="72.55" y2="481.85" stroke="#1a1a1a" stroke-width="1.4" />
<text x="60.8" y="485.85" font-size="13.7" text-anchor="middle" font-weight="normal" fill="#1c1c1c" >2</text>
<line x1="69.05" y1="446.07" x2="72.55" y2="446.07" stroke="#1a1a1a" stroke-width="1.4" />
<text x="60.8" y="450.07" font-size="13.7" text-anchor="middle" font-weight="normal" fill="#1c1c1c" >3</text>
<line x1="69.05" y1="410.3" x2="72.55" y2="410.3" stroke="#1a1a1a" stroke-width="1.4" />
<text x="60.8" y="414.3" font-size="13.7" text-anchor="middle" font-weight="normal" fill="#1c1c1c" >4</text>
<text transform="translate(44.7 493) rotate(-90)" font-size="17" font-weight="bold" fill="#1c1c1c" stroke="#1c1c1c" stroke-width="0.35">P<tspan font-size="13.8" font-weight="normal" stroke="none" dx="3.2">kW</tspan></text>
<line x1="515.9" y1="553.4" x2="521.4" y2="553.4" stroke="#2b2b2b" stroke-width="1.15" />
<line x1="515.9" y1="540.23" x2="518.9" y2="540.23" stroke="#2b2b2b" stroke-width="1.15" />
<line x1="515.9" y1="527.05" x2="521.4" y2="527.05" stroke="#2b2b2b" stroke-width="1.15" />
<line x1="515.9" y1="513.88" x2="518.9" y2="513.88" stroke="#2b2b2b" stroke-width="1.15" />
<line x1="515.9" y1="500.7" x2="521.4" y2="500.7" stroke="#2b2b2b" stroke-width="1.15" />
<line x1="515.9" y1="487.53" x2="518.9" y2="487.53" stroke="#2b2b2b" stroke-width="1.15" />
<line x1="515.9" y1="474.36" x2="521.4" y2="474.36" stroke="#2b2b2b" stroke-width="1.15" />
<line x1="515.9" y1="461.18" x2="518.9" y2="461.18" stroke="#2b2b2b" stroke-width="1.15" />
<line x1="515.9" y1="448.01" x2="521.4" y2="448.01" stroke="#2b2b2b" stroke-width="1.15" />
<line x1="515.9" y1="434.83" x2="518.9" y2="434.83" stroke="#2b2b2b" stroke-width="1.15" />
<line x1="515.9" y1="421.66" x2="521.4" y2="421.66" stroke="#2b2b2b" stroke-width="1.15" />
<text x="526" y="557.2" font-size="14" text-anchor="start" font-weight="normal" fill="#1c1c1c" >0</text>
<text x="526" y="530.85" font-size="14" text-anchor="start" font-weight="normal" fill="#1c1c1c" >1</text>
<text x="526" y="504.5" font-size="14" text-anchor="start" font-weight="normal" fill="#1c1c1c" >2</text>
<text x="526" y="478.16" font-size="14" text-anchor="start" font-weight="normal" fill="#1c1c1c" >3</text>
<text x="526" y="451.81" font-size="14" text-anchor="start" font-weight="normal" fill="#1c1c1c" >4</text>
<text x="526" y="425.46" font-size="14" text-anchor="start" font-weight="normal" fill="#1c1c1c" >5</text>
<text transform="translate(559.6 492.8) rotate(-90)" font-size="13.6" fill="#1c1c1c" textLength="28.4" lengthAdjust="spacingAndGlyphs">P HP</text>
</g>
<g id="npsh">
<line x1="72.55" y1="596.29" x2="515.9" y2="596.29" stroke="#262626" stroke-width="1.15" />
<line x1="72.55" y1="610.67" x2="515.9" y2="610.67" stroke="#262626" stroke-width="1.15" />
<line x1="72.55" y1="625.06" x2="515.9" y2="625.06" stroke="#262626" stroke-width="1.15" />
<line x1="72.55" y1="639.45" x2="515.9" y2="639.45" stroke="#262626" stroke-width="1.15" />
<line x1="72.55" y1="653.84" x2="515.9" y2="653.84" stroke="#262626" stroke-width="1.15" />
<line x1="72.55" y1="668.23" x2="515.9" y2="668.23" stroke="#262626" stroke-width="1.15" />
<line x1="72.55" y1="682.61" x2="515.9" y2="682.61" stroke="#262626" stroke-width="1.15" />
<line x1="91.02" y1="581.9" x2="91.02" y2="697" stroke="#262626" stroke-width="1.15" />
<line x1="109.5" y1="581.9" x2="109.5" y2="697" stroke="#262626" stroke-width="1.15" />
<line x1="127.97" y1="581.9" x2="127.97" y2="697" stroke="#262626" stroke-width="1.15" />
<line x1="146.44" y1="581.9" x2="146.44" y2="697" stroke="#262626" stroke-width="1.15" />
<line x1="164.91" y1="581.9" x2="164.91" y2="697" stroke="#262626" stroke-width="1.15" />
<line x1="183.39" y1="581.9" x2="183.39" y2="697" stroke="#262626" stroke-width="1.15" />
<line x1="201.86" y1="581.9" x2="201.86" y2="697" stroke="#262626" stroke-width="1.15" />
<line x1="220.33" y1="581.9" x2="220.33" y2="697" stroke="#262626" stroke-width="1.15" />
<line x1="238.81" y1="581.9" x2="238.81" y2="697" stroke="#262626" stroke-width="1.15" />
<line x1="257.28" y1="581.9" x2="257.28" y2="697" stroke="#262626" stroke-width="1.15" />
<line x1="275.75" y1="581.9" x2="275.75" y2="697" stroke="#262626" stroke-width="1.15" />
<line x1="294.22" y1="581.9" x2="294.22" y2="697" stroke="#262626" stroke-width="1.15" />
<line x1="312.7" y1="581.9" x2="312.7" y2="697" stroke="#262626" stroke-width="1.15" />
<line x1="331.17" y1="581.9" x2="331.17" y2="697" stroke="#262626" stroke-width="1.15" />
<line x1="349.64" y1="581.9" x2="349.64" y2="697" stroke="#262626" stroke-width="1.15" />
<line x1="368.12" y1="581.9" x2="368.12" y2="697" stroke="#262626" stroke-width="1.15" />
<line x1="386.59" y1="581.9" x2="386.59" y2="697" stroke="#262626" stroke-width="1.15" />
<line x1="405.06" y1="581.9" x2="405.06" y2="697" stroke="#262626" stroke-width="1.15" />
<line x1="423.54" y1="581.9" x2="423.54" y2="697" stroke="#262626" stroke-width="1.15" />
<line x1="442.01" y1="581.9" x2="442.01" y2="697" stroke="#262626" stroke-width="1.15" />
<line x1="460.48" y1="581.9" x2="460.48" y2="697" stroke="#262626" stroke-width="1.15" />
<line x1="478.95" y1="581.9" x2="478.95" y2="697" stroke="#262626" stroke-width="1.15" />
<line x1="497.43" y1="581.9" x2="497.43" y2="697" stroke="#262626" stroke-width="1.15" />
<path d="M183.39 671.73 L185.48 671.65 L187.57 671.57 L189.66 671.49 L191.75 671.41 L193.84 671.33 L195.94 671.25 L198.03 671.17 L200.12 671.09 L202.21 671.02 L204.3 670.94 L206.39 670.86 L208.48 670.78 L210.57 670.71 L212.67 670.63 L214.76 670.56 L216.85 670.48 L218.94 670.4 L221.03 670.33 L223.12 670.25 L225.21 670.18 L227.3 670.11 L229.4 670.03 L231.49 669.96 L233.58 669.89 L235.67 669.83 L237.76 669.76 L239.85 669.69 L241.94 669.62 L244.03 669.55 L246.13 669.48 L248.22 669.41 L250.31 669.34 L252.4 669.27 L254.49 669.2 L256.58 669.12 L258.67 669.05 L260.76 668.97 L262.86 668.89 L264.95 668.81 L267.04 668.73 L269.13 668.64 L271.22 668.56 L273.31 668.47 L275.4 668.38 L277.49 668.29 L279.59 668.2 L281.68 668.1 L283.77 668.01 L285.86 667.91 L287.95 667.82 L290.04 667.72 L292.13 667.62 L294.22 667.52 L296.32 667.42 L298.41 667.31 L300.5 667.21 L302.59 667.1 L304.68 666.98 L306.77 666.87 L308.86 666.75 L310.96 666.63 L313.05 666.51 L315.14 666.39 L317.23 666.26 L319.32 666.13 L321.41 666 L323.5 665.87 L325.59 665.74 L327.69 665.6 L329.78 665.46 L331.87 665.32 L333.96 665.17 L336.05 665.03 L338.14 664.87 L340.23 664.72 L342.32 664.56 L344.42 664.4 L346.51 664.24 L348.6 664.08 L350.69 663.91 L352.78 663.74 L354.87 663.56 L356.96 663.39 L359.05 663.2 L361.15 663.02 L363.24 662.83 L365.33 662.64 L367.42 662.45 L369.51 662.25 L371.6 662.05 L373.69 661.84 L375.78 661.63 L377.88 661.42 L379.97 661.2 L382.06 660.98 L384.15 660.76 L386.24 660.53 L388.33 660.3 L390.42 660.07 L392.51 659.83 L394.61 659.59 L396.7 659.34 L398.79 659.09 L400.88 658.83 L402.97 658.58 L405.06 658.31 L407.15 658.05 L409.25 657.78 L411.34 657.5 L413.43 657.23 L415.52 656.94 L417.61 656.66 L419.7 656.37 L421.79 656.08 L423.88 655.78 L425.98 655.48 L428.07 655.17 L430.16 654.86 L432.25 654.55 L434.34 654.23 L436.43 653.91 L438.52 653.59 L440.61 653.26 L442.71 652.93 L444.8 652.59 L446.89 652.25 L448.98 651.91 L451.07 651.56 L453.16 651.21 L455.25 650.85 L457.34 650.49 L459.44 650.13 L461.53 649.76 L463.62 649.39 L465.71 649.02 L467.8 648.64 L469.89 648.26 L471.98 647.88 L474.07 647.49 L476.17 647.09 L478.26 646.69 L480.35 646.28 L482.44 645.87 L484.53 645.45 L486.62 645.04 L488.71 644.62 L490.8 644.2 L492.9 643.78 L494.99 643.35 L497.08 642.92 L499.17 642.5 L501.26 642.07 L503.35 641.64 L505.44 641.21 L507.53 640.78 L509.63 640.35 L511.72 639.91 L513.81 639.48 L515.9 639.04" fill="none" stroke="#1a1a1a" stroke-width="2.5"/>
<rect x="72.55" y="581.9" width="443.35" height="115.1" fill="none" stroke="#1a1a1a" stroke-width="2.0"/>
<line x1="69.05" y1="697" x2="72.55" y2="697" stroke="#1a1a1a" stroke-width="1.4" />
<text x="60.8" y="701" font-size="13.7" text-anchor="middle" font-weight="normal" fill="#1c1c1c" >0</text>
<line x1="69.05" y1="668.23" x2="72.55" y2="668.23" stroke="#1a1a1a" stroke-width="1.4" />
<text x="60.8" y="672.23" font-size="13.7" text-anchor="middle" font-weight="normal" fill="#1c1c1c" >2</text>
<line x1="69.05" y1="639.45" x2="72.55" y2="639.45" stroke="#1a1a1a" stroke-width="1.4" />
<text x="60.8" y="643.45" font-size="13.7" text-anchor="middle" font-weight="normal" fill="#1c1c1c" >4</text>
<line x1="69.05" y1="610.67" x2="72.55" y2="610.67" stroke="#1a1a1a" stroke-width="1.4" />
<text x="60.8" y="614.67" font-size="13.7" text-anchor="middle" font-weight="normal" fill="#1c1c1c" >6</text>
<line x1="69.05" y1="581.9" x2="72.55" y2="581.9" stroke="#1a1a1a" stroke-width="1.4" />
<text x="60.8" y="585.9" font-size="13.7" text-anchor="middle" font-weight="normal" fill="#1c1c1c" >8</text>
<text transform="translate(45.2 657) rotate(-90)" font-size="16" font-weight="bold" fill="#1c1c1c" stroke="#1c1c1c" stroke-width="0.35">NPSH<tspan font-size="13.5" font-weight="normal" stroke="none" dx="4.5">m</tspan></text>
<line x1="515.9" y1="697" x2="521.4" y2="697" stroke="#2b2b2b" stroke-width="1.15" />
<line x1="515.9" y1="686.04" x2="518.9" y2="686.04" stroke="#2b2b2b" stroke-width="1.15" />
<line x1="515.9" y1="675.07" x2="521.4" y2="675.07" stroke="#2b2b2b" stroke-width="1.15" />
<line x1="515.9" y1="664.11" x2="518.9" y2="664.11" stroke="#2b2b2b" stroke-width="1.15" />
<line x1="515.9" y1="653.15" x2="521.4" y2="653.15" stroke="#2b2b2b" stroke-width="1.15" />
<line x1="515.9" y1="642.18" x2="518.9" y2="642.18" stroke="#2b2b2b" stroke-width="1.15" />
<line x1="515.9" y1="631.22" x2="521.4" y2="631.22" stroke="#2b2b2b" stroke-width="1.15" />
<line x1="515.9" y1="620.26" x2="518.9" y2="620.26" stroke="#2b2b2b" stroke-width="1.15" />
<line x1="515.9" y1="609.29" x2="521.4" y2="609.29" stroke="#2b2b2b" stroke-width="1.15" />
<line x1="515.9" y1="598.33" x2="518.9" y2="598.33" stroke="#2b2b2b" stroke-width="1.15" />
<line x1="515.9" y1="587.37" x2="521.4" y2="587.37" stroke="#2b2b2b" stroke-width="1.15" />
<text x="531.8" y="700.9" font-size="14" text-anchor="middle" font-weight="normal" fill="#1c1c1c" >0</text>
<text x="531.8" y="678.97" font-size="14" text-anchor="middle" font-weight="normal" fill="#1c1c1c" >5</text>
<text x="531.8" y="657.05" font-size="14" text-anchor="middle" font-weight="normal" fill="#1c1c1c" >10</text>
<text x="531.8" y="635.12" font-size="14" text-anchor="middle" font-weight="normal" fill="#1c1c1c" >15</text>
<text x="531.8" y="613.19" font-size="14" text-anchor="middle" font-weight="normal" fill="#1c1c1c" >20</text>
<text x="531.8" y="591.27" font-size="14" text-anchor="middle" font-weight="normal" fill="#1c1c1c" >25</text>
<text transform="translate(560.2 660.3) rotate(-90)" font-size="14" fill="#1c1c1c" textLength="49.6" lengthAdjust="spacingAndGlyphs">NPSH ft</text>
<line x1="72.55" y1="697" x2="72.55" y2="700.2" stroke="#1a1a1a" stroke-width="1.3" />
<line x1="146.44" y1="697" x2="146.44" y2="700.2" stroke="#1a1a1a" stroke-width="1.3" />
<line x1="220.33" y1="697" x2="220.33" y2="700.2" stroke="#1a1a1a" stroke-width="1.3" />
<line x1="294.22" y1="697" x2="294.22" y2="700.2" stroke="#1a1a1a" stroke-width="1.3" />
<line x1="368.12" y1="697" x2="368.12" y2="700.2" stroke="#1a1a1a" stroke-width="1.3" />
<line x1="442.01" y1="697" x2="442.01" y2="700.2" stroke="#1a1a1a" stroke-width="1.3" />
<line x1="515.9" y1="697" x2="515.9" y2="700.2" stroke="#1a1a1a" stroke-width="1.3" />
<text x="71.55" y="713.3" font-size="13.7" text-anchor="middle" font-weight="normal" fill="#1c1c1c" >0</text>
<text x="80.8" y="715.9" font-size="16.5" text-anchor="start" font-weight="bold" fill="#1c1c1c"  stroke="#1c1c1c" stroke-width="0.35">Q</text>
<text x="98.5" y="716.2" font-size="12.8" text-anchor="start" font-weight="normal" fill="#1c1c1c" >m<tspan font-size="7.8" dy="-4.6">3</tspan><tspan dy="4.6">/h</tspan></text>
<text x="146.74" y="713.3" font-size="13.7" text-anchor="middle" font-weight="normal" fill="#1c1c1c" >20</text>
<text x="220.63" y="713.3" font-size="13.7" text-anchor="middle" font-weight="normal" fill="#1c1c1c" >40</text>
<text x="294.52" y="713.3" font-size="13.7" text-anchor="middle" font-weight="normal" fill="#1c1c1c" >60</text>
<text x="368.42" y="713.3" font-size="13.7" text-anchor="middle" font-weight="normal" fill="#1c1c1c" >80</text>
<text x="443.01" y="713.3" font-size="13.7" text-anchor="middle" font-weight="normal" fill="#1c1c1c" >100</text>
<text x="517.6" y="712.8" font-size="13.7" text-anchor="middle" font-weight="normal" fill="#1c1c1c" >120</text>
<text x="475" y="707.1" font-size="8.3" text-anchor="start" font-weight="normal" fill="#1c1c1c" >72.086</text>
</g>
</svg>
</body>
</html>
